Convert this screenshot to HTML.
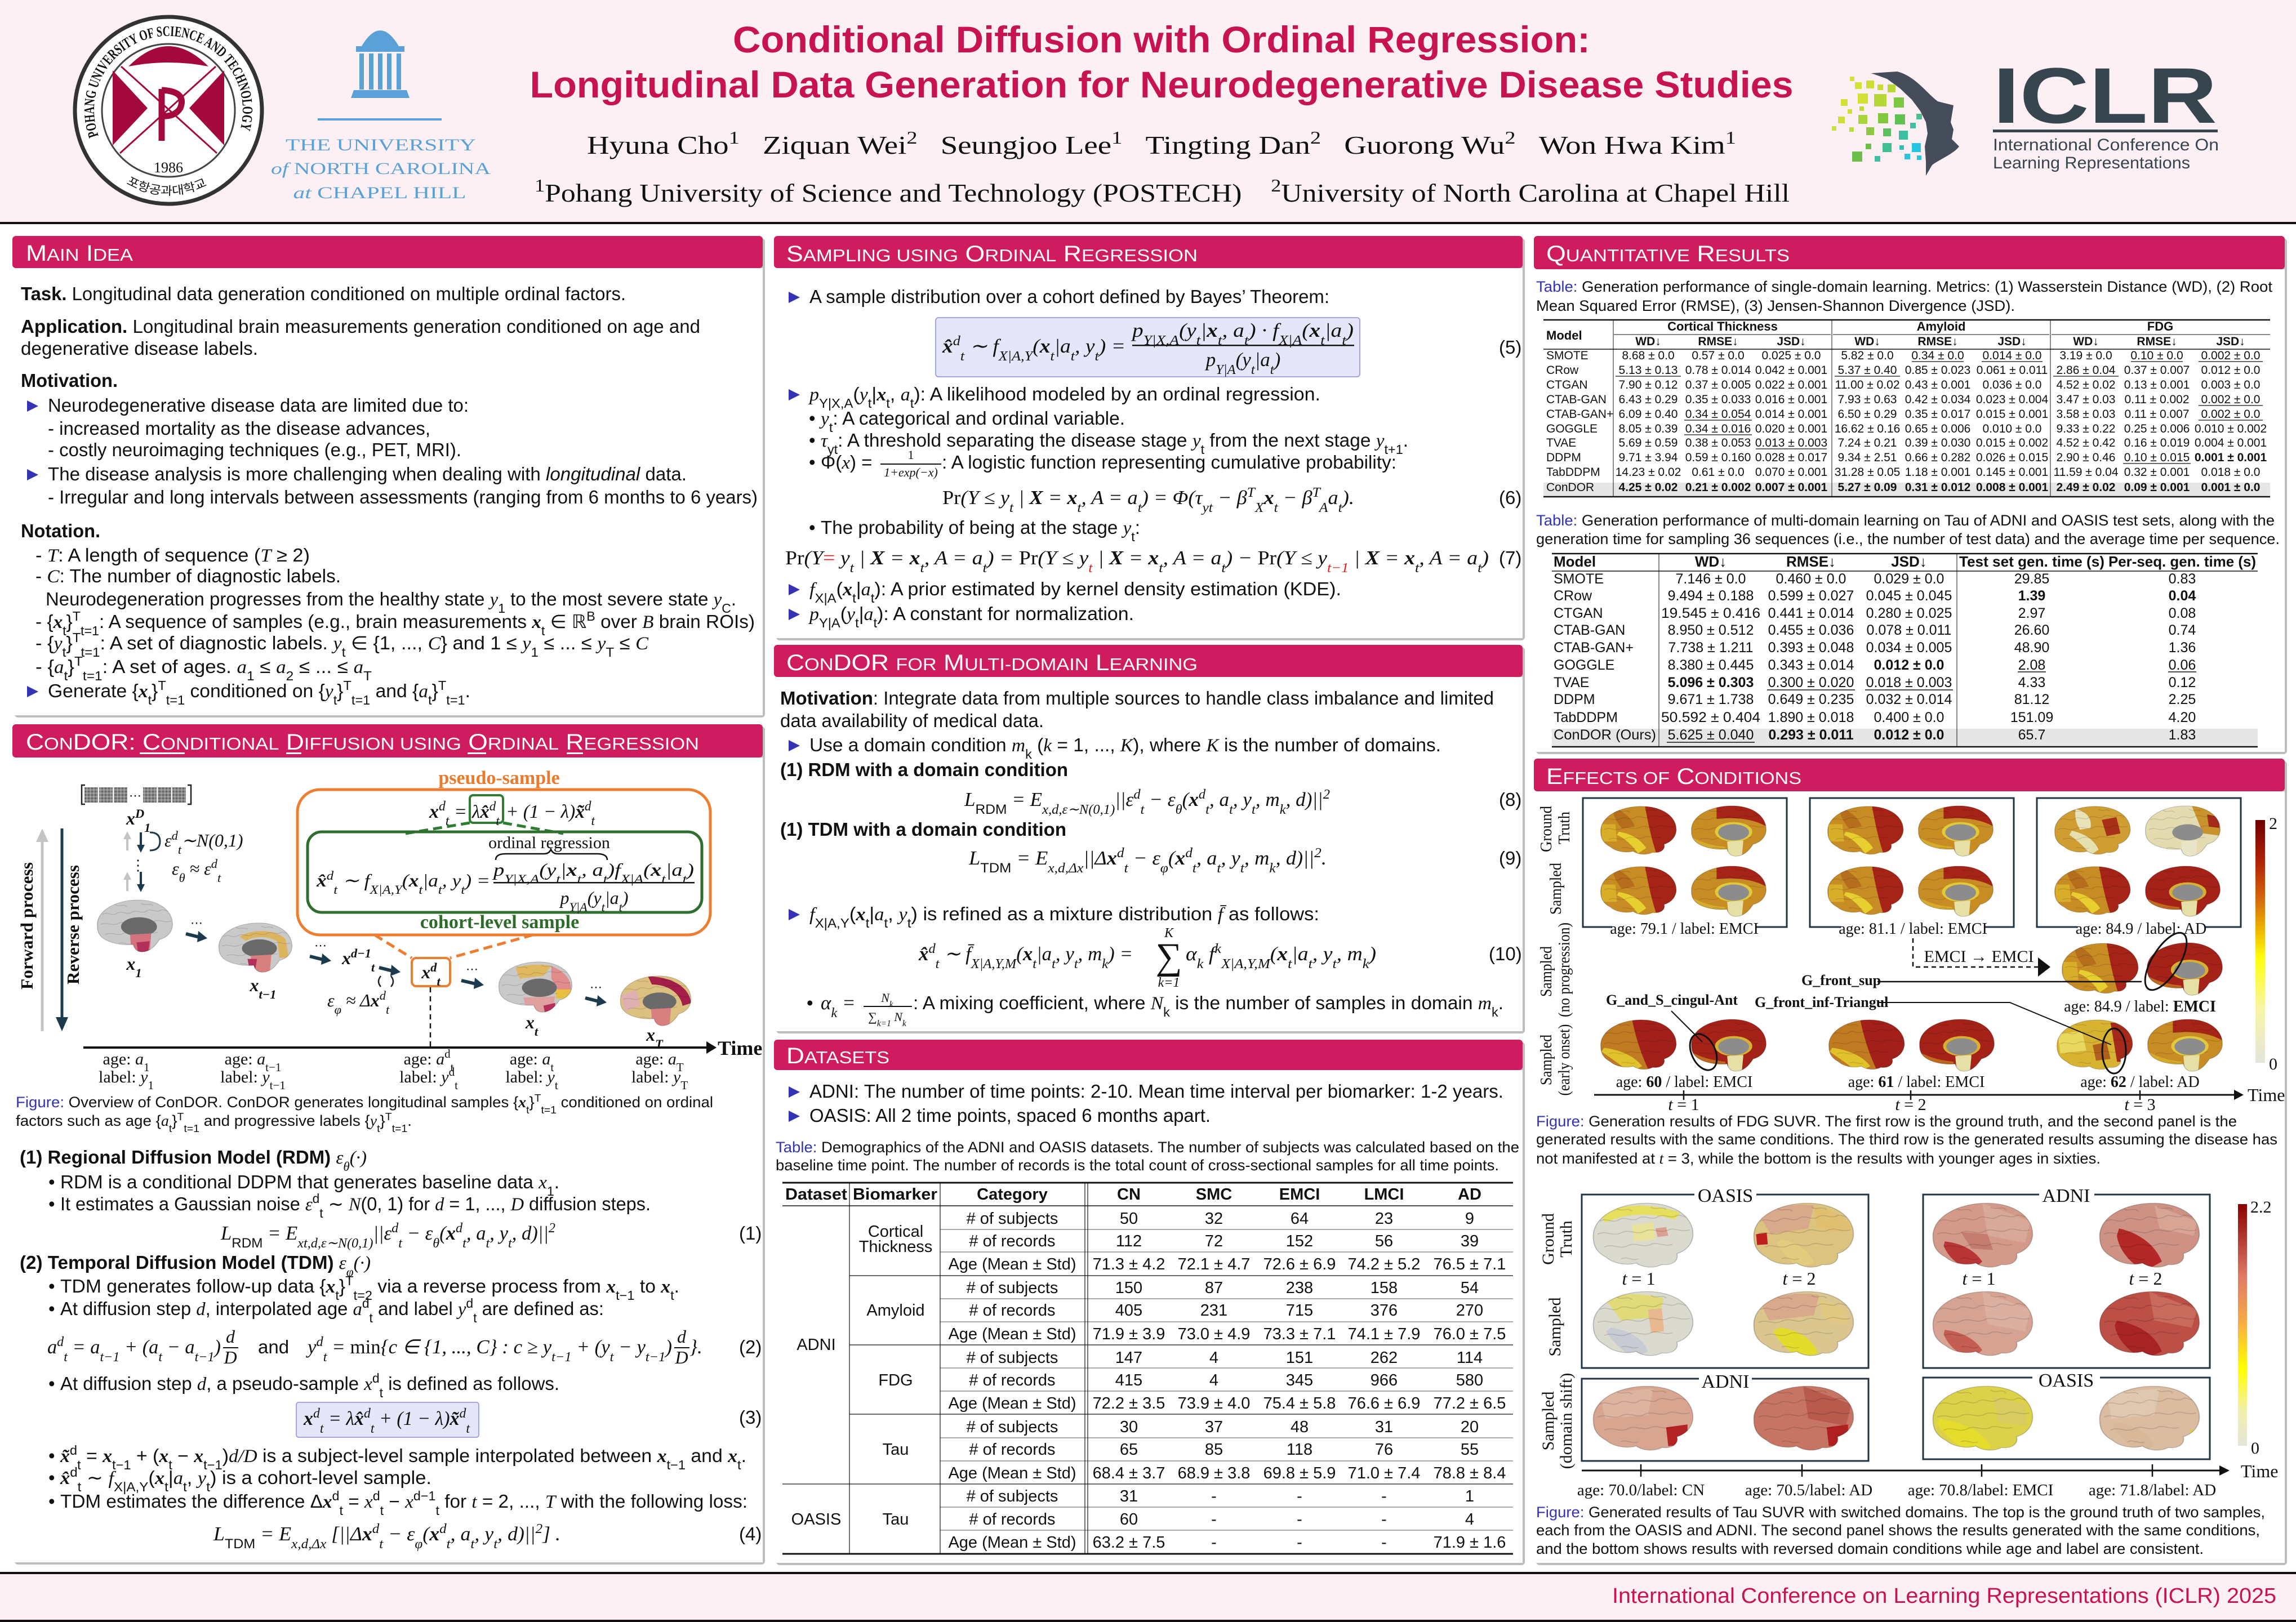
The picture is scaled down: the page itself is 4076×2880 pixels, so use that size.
<!DOCTYPE html>
<html><head><meta charset="utf-8">
<style>
html,body{margin:0;padding:0;background:#fff;width:4076px;height:2880px;overflow:hidden}
svg{display:block}
text{font-family:"Liberation Sans",Arial,sans-serif;fill:#111}
.sf{font-family:"Liberation Serif",serif}
.i{font-family:"Liberation Serif",serif;font-style:italic}
.bi{font-family:"Liberation Serif",serif;font-style:italic;font-weight:bold}
.bs{font-family:"Liberation Serif",serif;font-weight:bold}
.b{font-weight:bold}
.u{font-size:70%;baseline-shift:super}
.d{font-size:70%;baseline-shift:sub}
.bl{fill:#3333b3}
.t33{font-size:33px}
.cap{font-size:27px}
.bar{font-size:40px;fill:#fff}
.sc{font-size:31px;fill:#fff}
.rd{fill:#e02020}
.eq{font-family:"Liberation Serif",serif;font-style:italic;font-size:35px}
.t1{font-size:21px}
.t2{font-size:25px}
.t3{font-size:29px}
</style></head><body>
<svg xmlns="http://www.w3.org/2000/svg" width="4076" height="2880" viewBox="0 0 4076 2880">
<defs>
<linearGradient id="cbF" x1="0" y1="0" x2="0" y2="1">
<stop offset="0" stop-color="#6e0000"/><stop offset=".18" stop-color="#b3240a"/><stop offset=".33" stop-color="#d66a0a"/><stop offset=".47" stop-color="#f0c000"/><stop offset=".57" stop-color="#ffff10"/><stop offset=".78" stop-color="#f7f5a8"/><stop offset="1" stop-color="#e4e4dc"/>
</linearGradient>
<linearGradient id="cbT" x1="0" y1="0" x2="0" y2="1">
<stop offset="0" stop-color="#8b0000"/><stop offset=".3" stop-color="#e07a64"/><stop offset=".48" stop-color="#f8a848"/><stop offset=".68" stop-color="#ffff00"/><stop offset=".85" stop-color="#f2f0a8"/><stop offset="1" stop-color="#e4e4dc"/>
</linearGradient>
<pattern id="noise" width="6" height="6" patternUnits="userSpaceOnUse"><rect width="6" height="6" fill="#8a8a8a"/><rect width="3" height="3" fill="#666"/><rect x="3" y="3" width="3" height="3" fill="#a4a4a4"/></pattern>
<path id="ringP" d="M175,241.1 A132,132 0 1 1 423,241.1" fill="none"/>
<path id="ringK" d="M224,325.9 A150,150 0 0 0 374,325.9" fill="none"/>
<clipPath id="cl"><path d="M4,52 C3,24 28,4 56,5 C82,6 98,26 97,50 C96,64 89,72 82,75 C84,84 78,92 68,90 C60,96 50,94 44,88 C34,92 22,88 16,80 C7,73 4,64 4,52 Z"/></clipPath>
<clipPath id="cm"><path d="M4,50 C3,22 28,4 54,4 C80,4 97,24 96,50 C95,64 88,72 80,75 C76,84 70,96 60,97 C52,98 49,90 48,84 C32,86 16,80 9,70 C5,64 4,58 4,50 Z"/></clipPath>
<path id="gy" d="M10,30 C16,24 22,34 28,28 C34,22 40,32 46,26 C52,20 58,30 64,24 C70,18 76,28 82,22 C86,20 90,26 94,24 M8,48 C16,42 22,52 30,46 C38,40 44,50 52,44 C60,38 66,48 74,42 C80,38 86,46 94,42 M14,66 C22,60 28,70 36,64 C44,58 50,68 58,62 C64,58 70,66 78,62 M26,12 C30,18 36,10 40,16 M58,10 C62,16 68,8 72,14 M30,82 C36,78 40,86 46,82" fill="none" stroke="#000" stroke-opacity=".13" stroke-width="1.3"/>
<path id="olL" d="M4,52 C3,24 28,4 56,5 C82,6 98,26 97,50 C96,64 89,72 82,75 C84,84 78,92 68,90 C60,96 50,94 44,88 C34,92 22,88 16,80 C7,73 4,64 4,52 Z" fill="none" stroke="#000" stroke-opacity=".22" stroke-width="1"/>
<path id="olM" d="M4,50 C3,22 28,4 54,4 C80,4 97,24 96,50 C95,64 88,72 80,75 C76,84 70,96 60,97 C52,98 49,90 48,84 C32,86 16,80 9,70 C5,64 4,58 4,50 Z" fill="none" stroke="#000" stroke-opacity=".22" stroke-width="1"/>

<!-- FDG brains -->
<g id="fL1"><g clip-path="url(#cl)"><rect width="100" height="100" fill="#c88c24"/><path d="M58,0 L100,0 L100,90 L72,90 C66,62 62,34 58,0Z" fill="#a62318"/><path d="M20,8 C32,14 42,26 46,42 L30,46 C24,34 18,22 20,8Z" fill="#b46e1c"/><path d="M26,52 C40,55 52,64 60,82 L50,92 C42,76 34,64 24,58Z" fill="#e6cf2e"/><path d="M5,38 L22,38 L24,70 L5,70Z" fill="#d7ad2a"/><use href="#gy"/></g><use href="#olL"/></g>
<g id="fL2"><g clip-path="url(#cl)"><rect width="100" height="100" fill="#c07a22"/><path d="M42,0 L100,0 L100,92 L62,92 C52,60 46,30 42,0Z" fill="#a3201a"/><path d="M8,55 C25,58 45,68 55,88 L40,99 C28,85 15,72 5,62Z" fill="#e0c22c"/><use href="#gy"/></g><use href="#olL"/></g>
<g id="fL3"><g clip-path="url(#cl)"><rect width="100" height="100" fill="#cf9d32"/><path d="M30,10 C45,15 50,30 48,45 L35,48 C30,35 28,22 30,10Z" fill="#e8e2b8"/><path d="M25,50 C40,55 52,65 58,85 L48,95 C40,78 30,66 22,58Z" fill="#e6dfb0"/><path d="M62,30 L80,25 L85,55 L68,60Z" fill="#a83018"/><use href="#gy"/></g><use href="#olL"/></g>
<g id="fL4"><g clip-path="url(#cl)"><rect width="100" height="100" fill="#d8b332"/><path d="M70,10 L100,10 L100,80 L78,80Z" fill="#a62a1a"/><path d="M5,30 L35,25 L40,60 L8,65Z" fill="#e8d860"/><path d="M48,50 L65,45 L70,75 L52,78Z" fill="#b0601c"/><use href="#gy"/></g><use href="#olL"/></g>
<g id="fM1"><g clip-path="url(#cm)"><rect width="100" height="100" fill="#c88c24"/><path d="M35,0 L100,0 L100,46 C86,30 62,24 35,28Z" fill="#a62318"/><path d="M0,58 C15,72 30,78 46,80 L46,100 L0,100Z" fill="#d6ab2c"/><use href="#gy"/><ellipse cx="56" cy="52" rx="23" ry="18" fill="#e2c93a"/><ellipse cx="56" cy="53" rx="19" ry="15" fill="#8c8c8c"/><path d="M48,70 L68,68 L66,100 L50,100Z" fill="#e6dfa6"/></g><use href="#olM"/></g>
<g id="fM2"><g clip-path="url(#cm)"><rect width="100" height="100" fill="#a52218"/><path d="M0,60 C15,72 30,78 46,80 L46,100 L0,100Z" fill="#c06a20"/><use href="#gy"/><ellipse cx="56" cy="52" rx="23" ry="18" fill="#d8b030"/><ellipse cx="56" cy="53" rx="19" ry="15" fill="#8c8c8c"/><path d="M48,70 L68,68 L66,100 L50,100Z" fill="#e6dfa6"/></g><use href="#olM"/></g>
<g id="fM3"><g clip-path="url(#cm)"><rect width="100" height="100" fill="#e4dcb0"/><path d="M60,0 L100,0 L100,60 L75,55Z" fill="#c8922c"/><path d="M80,20 L95,25 L95,45 L82,42Z" fill="#a62a1a"/><use href="#gy"/><ellipse cx="56" cy="53" rx="19" ry="15" fill="#8c8c8c"/><path d="M48,70 L68,68 L66,100 L50,100Z" fill="#e8e4c8"/></g><use href="#olM"/></g>

<!-- Tau brains -->
<g id="tA"><g clip-path="url(#cl)"><rect width="100" height="100" fill="#dadacf"/><path d="M10,20 C30,5 60,5 85,18 L80,28 C60,18 35,18 15,32Z" fill="#e6df5e"/><path d="M40,35 L60,32 L62,55 L42,58Z" fill="#e8e29a"/><path d="M62,40 L72,38 L74,50 L64,52Z" fill="#dca090"/><use href="#gy"/></g><use href="#olL"/></g>
<g id="tB"><g clip-path="url(#cl)"><rect width="100" height="100" fill="#dcc380"/><path d="M8,20 C25,8 45,5 60,8 L55,40 L20,48Z" fill="#d9a98c"/><path d="M60,10 C75,12 90,25 95,40 L80,45 L62,38Z" fill="#e0c070"/><path d="M6,48 L16,46 L17,62 L7,63Z" fill="#c02020"/><path d="M30,55 C45,60 55,70 60,88 L45,95 C35,80 28,68 25,60Z" fill="#e3cc80"/><use href="#gy"/></g><use href="#olL"/></g>
<g id="tC"><g clip-path="url(#cl)"><rect width="100" height="100" fill="#d39a8a"/><path d="M50,5 L95,30 L90,60 L55,50Z" fill="#d8a898"/><path d="M30,45 L55,48 L60,70 L40,68Z" fill="#c47c6e"/><path d="M15,58 C28,60 42,68 50,86 L40,99 C28,92 18,80 14,64Z" fill="#b83636"/><use href="#gy"/></g><use href="#olL"/></g>
<g id="tD"><g clip-path="url(#cl)"><rect width="100" height="100" fill="#cd9283"/><path d="M55,8 L95,30 L92,50 L60,40Z" fill="#d8a494"/><path d="M22,40 C38,45 55,60 62,86 L46,99 C32,88 22,70 20,50Z" fill="#b52828"/><use href="#gy"/></g><use href="#olL"/></g>
<g id="tE"><g clip-path="url(#cl)"><rect width="100" height="100" fill="#dadacf"/><path d="M15,15 C35,5 55,8 70,15 L65,40 L30,45Z" fill="#e0da78"/><path d="M20,55 C35,58 50,68 55,88 L42,97 C30,86 20,72 16,60Z" fill="#c8cad4"/><path d="M55,30 L68,28 L70,60 L58,62Z" fill="#e8b890"/><use href="#gy"/></g><use href="#olL"/></g>
<g id="tF"><g clip-path="url(#cl)"><rect width="100" height="100" fill="#dcc690"/><path d="M10,20 C28,8 50,5 65,10 L60,38 L18,45Z" fill="#d9a98c"/><path d="M28,55 C45,58 58,70 64,90 L48,99 C35,86 26,72 22,60Z" fill="#e4dc2a"/><path d="M65,15 L90,28 L92,50 L70,45Z" fill="#e0c880"/><use href="#gy"/></g><use href="#olL"/></g>
<g id="tG"><g clip-path="url(#cl)"><rect width="100" height="100" fill="#d6a292"/><path d="M50,5 L95,30 L90,60 L55,50Z" fill="#dcb0a0"/><path d="M15,58 C28,60 42,68 50,86 L40,99 C28,92 18,80 14,64Z" fill="#c45e52"/><use href="#gy"/></g><use href="#olL"/></g>
<g id="tH"><g clip-path="url(#cl)"><rect width="100" height="100" fill="#bd5046"/><path d="M50,5 L95,30 L90,55 L55,45Z" fill="#c86a5c"/><path d="M20,45 C38,50 55,62 62,88 L46,99 C30,88 20,70 18,52Z" fill="#a82424"/><use href="#gy"/></g><use href="#olL"/></g>
<g id="tI"><g clip-path="url(#cl)"><rect width="100" height="100" fill="#d8a690"/><path d="M10,15 L60,8 L55,45 L15,50Z" fill="#dcb4a0"/><path d="M72,62 L92,58 L92,86 L74,88Z" fill="#b42424"/><use href="#gy"/></g><use href="#olL"/></g>
<g id="tJ"><g clip-path="url(#cl)"><rect width="100" height="100" fill="#c67464"/><path d="M50,5 L95,30 L90,60 L55,50Z" fill="#b85a4c"/><path d="M72,62 L92,58 L92,86 L74,88Z" fill="#b02020"/><use href="#gy"/></g><use href="#olL"/></g>
<g id="tK"><g clip-path="url(#cl)"><rect width="100" height="100" fill="#dcd24a"/><path d="M60,20 L90,30 L92,60 L65,55Z" fill="#d8cc60"/><path d="M10,50 C30,55 50,65 58,90 L40,99 C25,85 12,70 8,56Z" fill="#e6dc2c"/><use href="#gy"/></g><use href="#olL"/></g>
<g id="tL"><g clip-path="url(#cl)"><rect width="100" height="100" fill="#dcbca0"/><path d="M10,15 L60,8 L55,45 L15,50Z" fill="#e0c8b0"/><path d="M20,55 C35,58 50,68 55,88 L42,97 C30,86 20,72 16,60Z" fill="#d8b898"/><path d="M88,66 L96,64 L96,78 L90,78Z" fill="#d8d040"/><use href="#gy"/></g><use href="#olL"/></g>

<!-- col1 brains -->
<g id="cA"><g clip-path="url(#cm)"><rect width="100" height="100" fill="#c9c9c9"/><use href="#gy"/><ellipse cx="55" cy="52" rx="22" ry="17" fill="#6a6a6a"/><path d="M44,66 L70,64 L68,100 L46,100Z" fill="#d4727e"/><path d="M52,80 L68,78 L66,100 L54,100Z" fill="#b3305a"/></g><use href="#olM"/></g>
<g id="cB"><g clip-path="url(#cm)"><rect width="100" height="100" fill="#c9c9c9"/><path d="M30,30 C45,15 75,15 88,35 L92,70 L80,70 L78,40 C68,28 48,28 38,38Z" fill="#ddb45e"/><use href="#gy"/><ellipse cx="55" cy="52" rx="22" ry="17" fill="#6a6a6a"/><path d="M44,66 L70,64 L68,100 L46,100Z" fill="#d88080"/><path d="M40,72 L52,72 L50,90 L42,88Z" fill="#b3305a"/></g><use href="#olM"/></g>
<g id="cC"><g clip-path="url(#cm)"><rect width="100" height="100" fill="#c9c9c9"/><path d="M25,15 C40,8 60,8 70,12 L60,30 L30,35Z" fill="#e0b860"/><path d="M70,12 C85,20 95,35 95,55 L80,60 L70,35Z" fill="#e08c8c"/><path d="M75,55 L95,55 L92,72 L76,72Z" fill="#e8c040"/><use href="#gy"/><ellipse cx="55" cy="52" rx="22" ry="17" fill="#6a6a6a"/><path d="M35,70 L75,68 L70,100 L40,100Z" fill="#e0a0a0"/><path d="M60,85 L75,80 L74,96 L62,98Z" fill="#b3305a"/></g><use href="#olM"/></g>
<g id="cD"><g clip-path="url(#cm)"><rect width="100" height="100" fill="#dcc080"/><path d="M40,5 C70,5 95,25 96,55 L85,60 C82,35 65,20 45,20Z" fill="#a31f4a"/><path d="M5,40 L25,30 L30,60 L10,70Z" fill="#e0b0b0"/><use href="#gy"/><ellipse cx="55" cy="52" rx="22" ry="17" fill="#6a6a6a"/><path d="M44,66 L70,64 L68,100 L46,100Z" fill="#d88080"/></g><use href="#olM"/></g>
</defs>

<!-- ================= HEADER ================= -->
<rect width="4076" height="395" fill="#fcf0f4"/>
<rect y="394" width="4076" height="4" fill="#111"/>

<!-- POSTECH logo -->
<circle cx="299" cy="196" r="166" fill="#fff" stroke="#333" stroke-width="7"/>
<circle cx="299" cy="196" r="118" fill="#fff" stroke="#444" stroke-width="3"/>
<text class="bs" font-size="26" fill="#333"><textPath href="#ringP" textLength="495" lengthAdjust="spacingAndGlyphs">POHANG UNIVERSITY OF SCIENCE AND TECHNOLOGY</textPath></text>
<text font-size="21" fill="#333" style="font-family:'Noto Sans CJK KR',sans-serif"><textPath href="#ringK" textLength="150" lengthAdjust="spacingAndGlyphs">포항공과대학교</textPath></text>
<path d="M228,118 Q299,46 370,118 Q299,104 228,118Z" fill="#a3093c"/>
<polygon points="200,125 262,192 200,258" fill="#a3093c"/>
<polygon points="398,125 336,192 398,258" fill="#a3093c"/>
<path d="M215,118 L385,272 M383,118 L213,272" stroke="#a3093c" stroke-width="3"/>
<path d="M287,158 L287,250 M287,160 Q332,162 320,192 Q310,208 287,206" stroke="#a3093c" stroke-width="11" fill="none"/>
<text class="sf" x="299" y="306" font-size="26" text-anchor="middle" fill="#333">1986</text>

<!-- UNC logo -->
<g fill="#5aa1d8">
<path d="M642,82 Q675,26 708,82Z"/>
<rect x="632" y="82" width="86" height="10"/>
<rect x="638" y="95" width="8" height="64"/><rect x="655" y="95" width="8" height="64"/><rect x="671" y="95" width="8" height="64"/><rect x="687" y="95" width="8" height="64"/><rect x="704" y="95" width="8" height="64"/>
<path d="M628,160 L722,160 L727,174 L623,174Z"/>
</g>
<rect x="564" y="210" width="220" height="4" fill="#5aa1d8"/>
<text class="sf" x="676" y="267" font-size="30" text-anchor="middle" textLength="338" lengthAdjust="spacingAndGlyphs" style="fill:#5aa1d8">THE UNIVERSITY</text>
<text class="sf" x="676" y="309" font-size="30" text-anchor="middle" textLength="390" lengthAdjust="spacingAndGlyphs" style="fill:#5aa1d8"><tspan class="i" style="fill:#5aa1d8">of</tspan> NORTH CAROLINA</text>
<text class="sf" x="674" y="352" font-size="30" text-anchor="middle" textLength="307" lengthAdjust="spacingAndGlyphs" style="fill:#5aa1d8"><tspan class="i" style="fill:#5aa1d8">at</tspan> CHAPEL HILL</text>

<!-- Title -->
<text x="2062" y="93" font-size="66" class="b" text-anchor="middle" textLength="1522" lengthAdjust="spacingAndGlyphs" style="fill:#c7144f">Conditional Diffusion with Ordinal Regression:</text>
<text x="2062" y="173" font-size="66" class="b" text-anchor="middle" textLength="2243" lengthAdjust="spacingAndGlyphs" style="fill:#c7144f">Longitudinal Data Generation for Neurodegenerative Disease Studies</text>
<text class="sf" x="2062" y="273" font-size="46" text-anchor="middle" textLength="2040" lengthAdjust="spacingAndGlyphs">Hyuna Cho<tspan class="u">1</tspan>&#160;&#160;&#160;Ziquan Wei<tspan class="u">2</tspan>&#160;&#160;&#160;Seungjoo Lee<tspan class="u">1</tspan>&#160;&#160;&#160;Tingting Dan<tspan class="u">2</tspan>&#160;&#160;&#160;Guorong Wu<tspan class="u">2</tspan>&#160;&#160;&#160;Won Hwa Kim<tspan class="u">1</tspan></text>
<text class="sf" x="2063" y="358" font-size="46" text-anchor="middle" textLength="2228" lengthAdjust="spacingAndGlyphs"><tspan class="u">1</tspan>Pohang University of Science and Technology (POSTECH)&#160;&#160;&#160;&#160;<tspan class="u">2</tspan>University of North Carolina at Chapel Hill</text>

<!-- ICLR logo -->
<path d="M3322,130 L3368,127 C3400,135 3420,165 3440,180 L3468,187 L3463,217 L3468,230 L3465,247 L3478,260 C3470,272 3440,285 3430,293 L3419,312 L3419,287 L3417,260 L3422,237 L3419,217 L3409,197 L3394,177 L3373,157 L3350,140 Z" fill="#454d5a"/>
<g>
<rect x="3284" y="136" width="8" height="8" fill="#d8e040"/><rect x="3293" y="146" width="12" height="12" fill="#d4e034"/><rect x="3313" y="143" width="14" height="14" fill="#d0de34"/><rect x="3333" y="150" width="10" height="10" fill="#c8dc34"/><rect x="3351" y="150" width="14" height="14" fill="#b8d838"/>
<rect x="3268" y="176" width="12" height="12" fill="#d4e034"/><rect x="3298" y="166" width="18" height="18" fill="#d6e032"/><rect x="3327" y="167" width="22" height="22" fill="#b4d636"/><rect x="3362" y="173" width="18" height="18" fill="#7cc840"/>
<rect x="3280" y="194" width="8" height="8" fill="#cce038"/><rect x="3301" y="189" width="8" height="8" fill="#c0dc38"/>
<rect x="3263" y="207" width="12" height="12" fill="#cbe03a"/><rect x="3299" y="204" width="16" height="16" fill="#a8d43c"/><rect x="3334" y="201" width="18" height="18" fill="#80c83c"/><rect x="3364" y="203" width="18" height="18" fill="#60c050"/><rect x="3402" y="202" width="10" height="10" fill="#4cc090"/>
<rect x="3252" y="224" width="8" height="8" fill="#c8e040"/><rect x="3283" y="226" width="8" height="8" fill="#b8dc3c"/><rect x="3313" y="226" width="14" height="14" fill="#8cc840"/><rect x="3343" y="228" width="14" height="14" fill="#5cc05c"/><rect x="3371" y="232" width="16" height="16" fill="#3cc0a0"/><rect x="3391" y="218" width="10" height="10" fill="#40c0a0"/>
<rect x="3312" y="255" width="10" height="10" fill="#6cc048"/><rect x="3342" y="254" width="16" height="16" fill="#40c090"/><rect x="3372" y="258" width="8" height="8" fill="#30c0b0"/><rect x="3394" y="254" width="16" height="16" fill="#28c4e4"/>
<rect x="3288" y="269" width="18" height="18" fill="#6cc04a"/><rect x="3328" y="277" width="10" height="10" fill="#40c0a0"/><rect x="3381" y="273" width="10" height="10" fill="#28c4e4"/><rect x="3403" y="276" width="8" height="8" fill="#28c4e4"/>
</g>
<text x="3538" y="218" font-size="140" class="b" textLength="398" lengthAdjust="spacingAndGlyphs" style="fill:#37454f">ICLR</text>
<rect x="3538" y="230" width="399" height="5" fill="#37454f"/>
<text x="3538" y="267" font-size="30" textLength="401" lengthAdjust="spacingAndGlyphs" style="fill:#37454f">International Conference On</text>
<text x="3538" y="299" font-size="30" textLength="350" lengthAdjust="spacingAndGlyphs" style="fill:#37454f">Learning Representations</text>

<!-- ================= SECTION FRAMES ================= -->
<g>
<rect x="26" y="423" width="1332" height="851" rx="6" fill="#bdbdbd"/><rect x="22" y="476" width="1332" height="794" fill="#fff"/><rect x="22" y="419" width="1332" height="57" rx="6" fill="#cf1c5f"/>
<rect x="26" y="1290" width="1332" height="1488" rx="6" fill="#bdbdbd"/><rect x="22" y="1345" width="1332" height="1429" fill="#fff"/><rect x="22" y="1286" width="1332" height="59" rx="6" fill="#cf1c5f"/>
<rect x="1378" y="423" width="1329" height="714" rx="6" fill="#bdbdbd"/><rect x="1374" y="476" width="1329" height="657" fill="#fff"/><rect x="1374" y="419" width="1329" height="57" rx="6" fill="#cf1c5f"/>
<rect x="1378" y="1149" width="1329" height="686" rx="6" fill="#bdbdbd"/><rect x="1374" y="1202" width="1329" height="629" fill="#fff"/><rect x="1374" y="1145" width="1329" height="57" rx="6" fill="#cf1c5f"/>
<rect x="1378" y="1850" width="1329" height="929" rx="6" fill="#bdbdbd"/><rect x="1374" y="1900" width="1329" height="875" fill="#fff"/><rect x="1374" y="1846" width="1329" height="54" rx="6" fill="#cf1c5f"/>
<rect x="2727" y="423" width="1333" height="916" rx="6" fill="#bdbdbd"/><rect x="2723" y="478" width="1333" height="857" fill="#fff"/><rect x="2723" y="419" width="1333" height="59" rx="6" fill="#cf1c5f"/>
<rect x="2727" y="1351" width="1333" height="1428" rx="6" fill="#bdbdbd"/><rect x="2723" y="1405" width="1333" height="1370" fill="#fff"/><rect x="2723" y="1347" width="1333" height="58" rx="6" fill="#cf1c5f"/>
</g>

<!-- bar titles -->
<text class="bar" x="46" y="463" textLength="190" lengthAdjust="spacingAndGlyphs">M<tspan class="sc">AIN</tspan> I<tspan class="sc">DEA</tspan></text>
<text class="bar" x="46" y="1331" textLength="1195" lengthAdjust="spacingAndGlyphs">C<tspan class="sc">ON</tspan>DOR: C<tspan class="sc">ONDITIONAL</tspan> D<tspan class="sc">IFFUSION USING</tspan> O<tspan class="sc">RDINAL</tspan> R<tspan class="sc">EGRESSION</tspan></text>
<g fill="#fff"><rect x="248" y="1336" width="80" height="3"/><rect x="508" y="1336" width="27" height="3"/><rect x="830" y="1336" width="33" height="3"/><rect x="1006" y="1336" width="29" height="3"/></g>
<text class="bar" x="1396" y="464" textLength="730" lengthAdjust="spacingAndGlyphs">S<tspan class="sc">AMPLING USING</tspan> O<tspan class="sc">RDINAL</tspan> R<tspan class="sc">EGRESSION</tspan></text>
<text class="bar" x="1396" y="1190" textLength="730" lengthAdjust="spacingAndGlyphs">C<tspan class="sc">ON</tspan>DOR <tspan class="sc">FOR</tspan> M<tspan class="sc">ULTI-DOMAIN</tspan> L<tspan class="sc">EARNING</tspan></text>
<text class="bar" x="1396" y="1888" textLength="183" lengthAdjust="spacingAndGlyphs">D<tspan class="sc">ATASETS</tspan></text>
<text class="bar" x="2745" y="464" textLength="432" lengthAdjust="spacingAndGlyphs">Q<tspan class="sc">UANTITATIVE</tspan> R<tspan class="sc">ESULTS</tspan></text>
<text class="bar" x="2745" y="1392" textLength="453" lengthAdjust="spacingAndGlyphs">E<tspan class="sc">FFECTS OF</tspan> C<tspan class="sc">ONDITIONS</tspan></text>

<!-- ================= COLUMN 1: MAIN IDEA ================= -->
<g fill="#3333b3">
<path d="M48,711 L68,721 L48,731Z"/><path d="M48,833 L68,843 L48,853Z"/><path d="M48,1218 L68,1228 L48,1238Z"/>
</g>
<text x="37" y="533" class="t33" textLength="1074" lengthAdjust="spacingAndGlyphs"><tspan class="b">Task.</tspan> Longitudinal data generation conditioned on multiple ordinal factors.</text>
<text x="37" y="591" class="t33" textLength="1206" lengthAdjust="spacingAndGlyphs"><tspan class="b">Application.</tspan> Longitudinal brain measurements generation conditioned on age and</text>
<text x="37" y="630" class="t33" textLength="421" lengthAdjust="spacingAndGlyphs">degenerative disease labels.</text>
<text x="37" y="687" class="t33 b" textLength="172" lengthAdjust="spacingAndGlyphs">Motivation.</text>
<text x="85" y="731" class="t33" textLength="747" lengthAdjust="spacingAndGlyphs">Neurodegenerative disease data are limited due to:</text>
<text x="85" y="772" class="t33" textLength="679" lengthAdjust="spacingAndGlyphs">- increased mortality as the disease advances,</text>
<text x="85" y="810" class="t33" textLength="734" lengthAdjust="spacingAndGlyphs">- costly neuroimaging techniques (e.g., PET, MRI).</text>
<text x="85" y="853" class="t33" textLength="1134" lengthAdjust="spacingAndGlyphs">The disease analysis is more challenging when dealing with <tspan font-style="italic">longitudinal</tspan> data.</text>
<text x="85" y="894" class="t33" textLength="1260" lengthAdjust="spacingAndGlyphs">- Irregular and long intervals between assessments (ranging from 6 months to 6 years)</text>
<text x="37" y="954" class="t33 b" textLength="141" lengthAdjust="spacingAndGlyphs">Notation.</text>
<text x="63" y="997" class="t33" textLength="487" lengthAdjust="spacingAndGlyphs">- <tspan class="i">T</tspan>: A length of sequence (<tspan class="i">T</tspan> ≥ 2)</text>
<text x="63" y="1034" class="t33" textLength="542" lengthAdjust="spacingAndGlyphs">- <tspan class="i">C</tspan>: The number of diagnostic labels.</text>
<text x="81" y="1075" class="t33" textLength="1226" lengthAdjust="spacingAndGlyphs">Neurodegeneration progresses from the healthy state <tspan class="i">y</tspan><tspan class="d">1</tspan> to the most severe state <tspan class="i">y</tspan><tspan class="d">C</tspan>.</text>
<text x="63" y="1115" class="t33" textLength="1277" lengthAdjust="spacingAndGlyphs">- {<tspan class="bi">x</tspan><tspan class="d">t</tspan>}<tspan class="u">T</tspan><tspan class="d">t=1</tspan>: A sequence of samples (e.g., brain measurements <tspan class="bi">x</tspan><tspan class="d">t</tspan> ∈ ℝ<tspan class="u">B</tspan> over <tspan class="i">B</tspan> brain ROIs)</text>
<text x="63" y="1153" class="t33" textLength="1088" lengthAdjust="spacingAndGlyphs">- {<tspan class="i">y</tspan><tspan class="d">t</tspan>}<tspan class="u">T</tspan><tspan class="d">t=1</tspan>: A set of diagnostic labels. <tspan class="i">y</tspan><tspan class="d">t</tspan> ∈ {1, ..., <tspan class="i">C</tspan>} and 1 ≤ <tspan class="i">y</tspan><tspan class="d">1</tspan> ≤ ... ≤ <tspan class="i">y</tspan><tspan class="d">T</tspan> ≤ <tspan class="i">C</tspan></text>
<text x="63" y="1195" class="t33" textLength="597" lengthAdjust="spacingAndGlyphs">- {<tspan class="i">a</tspan><tspan class="d">t</tspan>}<tspan class="u">T</tspan><tspan class="d">t=1</tspan>: A set of ages. <tspan class="i">a</tspan><tspan class="d">1</tspan> ≤ <tspan class="i">a</tspan><tspan class="d">2</tspan> ≤ ... ≤ <tspan class="i">a</tspan><tspan class="d">T</tspan></text>
<text x="85" y="1238" class="t33" textLength="750" lengthAdjust="spacingAndGlyphs">Generate {<tspan class="bi">x</tspan><tspan class="d">t</tspan>}<tspan class="u">T</tspan><tspan class="d">t=1</tspan> conditioned on {<tspan class="i">y</tspan><tspan class="d">t</tspan>}<tspan class="u">T</tspan><tspan class="d">t=1</tspan> and {<tspan class="i">a</tspan><tspan class="d">t</tspan>}<tspan class="u">T</tspan><tspan class="d">t=1</tspan>.</text>

<!-- ================= COLUMN 1: CONDOR FIGURE ================= -->
<text class="bs" x="886" y="1392" font-size="34" text-anchor="middle" style="fill:#ea7a2c">pseudo-sample</text>
<rect x="528" y="1402" width="733" height="258" rx="40" fill="none" stroke="#ef7d2f" stroke-width="5"/>
<text class="i" x="762" y="1452" font-size="34"><tspan class="bi">x</tspan><tspan class="u">d</tspan><tspan class="d">t</tspan> =</text>
<rect x="834" y="1412" width="59" height="49" rx="6" fill="none" stroke="#2e7d32" stroke-width="4"/>
<text class="i" x="838" y="1452" font-size="33">λ<tspan class="bi">x̂</tspan><tspan class="u">d</tspan><tspan class="d">t</tspan></text>
<text class="i" x="898" y="1452" font-size="34" textLength="158" lengthAdjust="spacingAndGlyphs">+ (1 − λ)<tspan class="bi">x̃</tspan><tspan class="u">d</tspan><tspan class="d">t</tspan></text>
<path d="M834,1461 L720,1480 M893,1461 L1000,1480" stroke="#2e7d32" stroke-width="5" stroke-dasharray="16,9" fill="none"/>
<rect x="546" y="1477" width="700" height="143" rx="25" fill="none" stroke="#2e6e2e" stroke-width="5"/>
<text class="sf" x="975" y="1506" font-size="30" text-anchor="middle">ordinal regression</text>
<path d="M880,1527 Q880,1516 898,1516 L966,1516 Q975,1516 978,1508 Q981,1516 990,1516 L1060,1516 Q1078,1516 1078,1527" stroke="#111" stroke-width="2.5" fill="none"/>
<text class="i" x="562" y="1574" font-size="32" textLength="308" lengthAdjust="spacingAndGlyphs"><tspan class="bi">x̂</tspan><tspan class="u">d</tspan><tspan class="d">t</tspan> ∼ f<tspan class="d">X|A,Y</tspan>(<tspan class="bi">x</tspan><tspan class="d">t</tspan>|a<tspan class="d">t</tspan>, y<tspan class="d">t</tspan>) =</text>
<text class="i" x="876" y="1555" font-size="32" textLength="356" lengthAdjust="spacingAndGlyphs">p<tspan class="d">Y|X,A</tspan>(y<tspan class="d">t</tspan>|<tspan class="bi">x</tspan><tspan class="d">t</tspan>, a<tspan class="d">t</tspan>)f<tspan class="d">X|A</tspan>(<tspan class="bi">x</tspan><tspan class="d">t</tspan>|a<tspan class="d">t</tspan>)</text>
<rect x="876" y="1566" width="357" height="2.5" fill="#111"/>
<text class="i" x="1055" y="1605" font-size="32" text-anchor="middle">p<tspan class="d">Y|A</tspan>(y<tspan class="d">t</tspan>|a<tspan class="d">t</tspan>)</text>
<text class="bs" x="887" y="1648" font-size="34" text-anchor="middle" style="fill:#2e6b2a">cohort-level sample</text>
<path d="M665,1660 L731,1701 M946,1660 L799,1701" stroke="#ef7d2f" stroke-width="5" stroke-dasharray="16,9" fill="none"/>
<rect x="731" y="1701" width="68" height="50" rx="8" fill="#fff" stroke="#ef7d2f" stroke-width="4"/>
<text class="bi" x="765" y="1737" font-size="32" text-anchor="middle">x<tspan class="u">d</tspan><tspan class="d">t</tspan></text>
<path d="M764,1753 L764,1858" stroke="#111" stroke-width="2.5" stroke-dasharray="9,7"/>

<!-- process arrows -->
<path d="M75,1831 L75,1492" stroke="#c4c4c4" stroke-width="5"/>
<polygon points="64,1495 75,1471 86,1495" fill="#c4c4c4"/>
<path d="M110,1471 L110,1810" stroke="#1b3a4b" stroke-width="5"/>
<polygon points="99,1806 110,1831 121,1806" fill="#1b3a4b"/>
<text class="bs" transform="translate(58,1644) rotate(-90)" font-size="31" text-anchor="middle" textLength="226" lengthAdjust="spacingAndGlyphs">Forward process</text>
<text class="bs" transform="translate(140,1642) rotate(-90)" font-size="31" text-anchor="middle" textLength="212" lengthAdjust="spacingAndGlyphs">Reverse process</text>

<!-- noise bar -->
<path d="M151,1394 L145,1394 L145,1428 L151,1428 M333,1394 L339,1394 L339,1428 L333,1428" stroke="#222" stroke-width="2.5" fill="none"/>
<g fill="url(#noise)"><rect x="150" y="1398" width="24" height="27"/><rect x="176" y="1398" width="24" height="27"/><rect x="202" y="1398" width="24" height="27"/><rect x="254" y="1398" width="24" height="27"/><rect x="280" y="1398" width="24" height="27"/><rect x="306" y="1398" width="24" height="27"/></g>
<text x="229" y="1420" font-size="22">⋯</text>
<text class="bi" x="224" y="1464" font-size="32">x<tspan class="u">D</tspan><tspan class="d">1</tspan></text>
<path d="M226,1510 L226,1488 M226,1582 L226,1560" stroke="#c4c4c4" stroke-width="4"/>
<polygon points="219,1490 226,1476 233,1490" fill="#c4c4c4"/><polygon points="219,1562 226,1548 233,1562" fill="#c4c4c4"/>
<path d="M250,1478 L250,1502 M250,1548 L250,1572" stroke="#1b3a4b" stroke-width="4"/>
<polygon points="243,1500 250,1514 257,1500" fill="#1b3a4b"/><polygon points="243,1570 250,1584 257,1570" fill="#1b3a4b"/>
<text x="232" y="1545" font-size="26">⋮</text>
<path d="M266,1478 Q284,1478 284,1494 Q284,1510 266,1510" stroke="#1b3a4b" stroke-width="3" fill="none"/>
<text class="i" x="292" y="1503" font-size="32">ε<tspan class="u">d</tspan><tspan class="d">t</tspan>∼N(0,1)</text>
<text class="i" x="305" y="1553" font-size="32">ε<tspan class="d">θ</tspan> ≈ ε<tspan class="u">d</tspan><tspan class="d">t</tspan></text>

<!-- brains col1 -->
<use href="#cA" transform="translate(167,1594) scale(1.45,0.99)"/>
<use href="#cB" transform="translate(383,1635) scale(1.41,0.94)"/>
<use href="#cC" transform="translate(880,1704) scale(1.41,0.96)"/>
<use href="#cD" transform="translate(1096,1729) scale(1.36,0.95)"/>
<g fill="#1b3a4b" stroke="#1b3a4b">
<path d="M330,1658 L354,1664" stroke-width="6"/><polygon points="352,1653 368,1666 350,1673" stroke="none"/>
<path d="M550,1698 L574,1704" stroke-width="6"/><polygon points="572,1693 588,1706 570,1713" stroke="none"/>
<path d="M673,1718 L697,1724" stroke-width="6"/><polygon points="695,1713 711,1726 693,1733" stroke="none"/>
<path d="M819,1741 L845,1747" stroke-width="6"/><polygon points="843,1736 859,1749 841,1756" stroke="none"/>
<path d="M1039,1772 L1063,1778" stroke-width="6"/><polygon points="1061,1767 1077,1780 1059,1787" stroke="none"/>
</g>
<text x="338" y="1646" font-size="22">⋯</text><text x="558" y="1686" font-size="22">⋯</text><text x="827" y="1728" font-size="22">⋯</text><text x="1047" y="1760" font-size="22">⋯</text>
<text class="bi" x="607" y="1712" font-size="32">x<tspan class="u">d−1</tspan><tspan class="d">t</tspan></text>
<path d="M676,1733 Q668,1743 676,1752 M694,1733 Q702,1743 694,1752" stroke="#222" stroke-width="2.5" fill="none"/>
<text class="i" x="581" y="1787" font-size="32">ε<tspan class="d">φ</tspan> ≈ Δ<tspan class="bi">x</tspan><tspan class="u">d</tspan><tspan class="d">t</tspan></text>
<text class="bi" x="238" y="1722" font-size="32" text-anchor="middle">x<tspan class="d">1</tspan></text>
<text class="bi" x="467" y="1760" font-size="32" text-anchor="middle">x<tspan class="d">t−1</tspan></text>
<text class="bi" x="944" y="1826" font-size="32" text-anchor="middle">x<tspan class="d">t</tspan></text>
<text class="bi" x="1162" y="1848" font-size="32" text-anchor="middle">x<tspan class="d">T</tspan></text>
<path d="M148,1860 L1256,1860" stroke="#111" stroke-width="4"/>
<polygon points="1254,1849 1272,1860 1254,1871" fill="#111"/>
<text class="bs" x="1274" y="1873" font-size="36">Time</text>
<text class="sf" x="224" y="1890" text-anchor="middle" font-size="30">age: <tspan class="i">a</tspan><tspan class="d">1</tspan></text>
<text class="sf" x="224" y="1922" text-anchor="middle" font-size="30">label: <tspan class="i">y</tspan><tspan class="d">1</tspan></text>
<text class="sf" x="449" y="1890" text-anchor="middle" font-size="30">age: <tspan class="i">a</tspan><tspan class="d">t−1</tspan></text>
<text class="sf" x="449" y="1922" text-anchor="middle" font-size="30">label: <tspan class="i">y</tspan><tspan class="d">t−1</tspan></text>
<text class="sf" x="761" y="1890" text-anchor="middle" font-size="30">age: <tspan class="i">a</tspan><tspan class="u">d</tspan><tspan class="d">t</tspan></text>
<text class="sf" x="761" y="1922" text-anchor="middle" font-size="30">label: <tspan class="i">y</tspan><tspan class="u">d</tspan><tspan class="d">t</tspan></text>
<text class="sf" x="944" y="1890" text-anchor="middle" font-size="30">age: <tspan class="i">a</tspan><tspan class="d">t</tspan></text>
<text class="sf" x="944" y="1922" text-anchor="middle" font-size="30">label: <tspan class="i">y</tspan><tspan class="d">t</tspan></text>
<text class="sf" x="1171" y="1890" text-anchor="middle" font-size="30">age: <tspan class="i">a</tspan><tspan class="d">T</tspan></text>
<text class="sf" x="1171" y="1922" text-anchor="middle" font-size="30">label: <tspan class="i">y</tspan><tspan class="d">T</tspan></text>

<text x="28" y="1966" class="cap" textLength="1238" lengthAdjust="spacingAndGlyphs"><tspan class="bl">Figure:</tspan> Overview of ConDOR. ConDOR generates longitudinal samples {<tspan class="bi">x</tspan><tspan class="d">t</tspan>}<tspan class="u">T</tspan><tspan class="d">t=1</tspan> conditioned on ordinal</text>
<text x="28" y="1999" class="cap" textLength="703" lengthAdjust="spacingAndGlyphs">factors such as age {<tspan class="i">a</tspan><tspan class="d">t</tspan>}<tspan class="u">T</tspan><tspan class="d">t=1</tspan> and progressive labels {<tspan class="i">y</tspan><tspan class="d">t</tspan>}<tspan class="u">T</tspan><tspan class="d">t=1</tspan>.</text>

<!-- RDM / TDM -->
<text x="35" y="2066" class="t33 b" textLength="616" lengthAdjust="spacingAndGlyphs">(1) Regional Diffusion Model (RDM) <tspan class="i" font-weight="normal">ε<tspan class="d">θ</tspan>(·)</tspan></text>
<text x="86" y="2110" class="t33">•</text><text x="86" y="2149" class="t33">•</text><text x="86" y="2295" class="t33">•</text><text x="86" y="2335" class="t33">•</text><text x="86" y="2468" class="t33">•</text><text x="86" y="2596" class="t33">•</text><text x="86" y="2635" class="t33">•</text><text x="86" y="2677" class="t33">•</text>
<text x="107" y="2110" class="t33" textLength="886" lengthAdjust="spacingAndGlyphs">RDM is a conditional DDPM that generates baseline data <tspan class="i">x</tspan><tspan class="d">1</tspan>.</text>
<text x="107" y="2149" class="t33" textLength="1048" lengthAdjust="spacingAndGlyphs">It estimates a Gaussian noise <tspan class="i">ε</tspan><tspan class="u">d</tspan><tspan class="d">t</tspan> ∼ <tspan class="i">N</tspan>(0, 1) for <tspan class="i">d</tspan> = 1, ..., <tspan class="i">D</tspan> diffusion steps.</text>
<text x="392" y="2201" class="eq" textLength="594" lengthAdjust="spacingAndGlyphs">L<tspan class="d" style="font-family:'Liberation Sans';font-style:normal">RDM</tspan> = E<tspan class="d">xt,d,ε∼N(0,1)</tspan>||ε<tspan class="u">d</tspan><tspan class="d">t</tspan> − ε<tspan class="d">θ</tspan>(<tspan class="bi">x</tspan><tspan class="u">d</tspan><tspan class="d">t</tspan>, a<tspan class="d">t</tspan>, y<tspan class="d">t</tspan>, d)||<tspan class="u">2</tspan></text>
<text x="1312" y="2201" class="t33">(1)</text>
<text x="35" y="2253" class="t33 b" textLength="623" lengthAdjust="spacingAndGlyphs">(2) Temporal Diffusion Model (TDM) <tspan class="i" font-weight="normal">ε<tspan class="d">φ</tspan>(·)</tspan></text>
<text x="107" y="2295" class="t33" textLength="1099" lengthAdjust="spacingAndGlyphs">TDM generates follow-up data {<tspan class="bi">x</tspan><tspan class="d">t</tspan>}<tspan class="u">T</tspan><tspan class="d">t=2</tspan> via a reverse process from <tspan class="bi">x</tspan><tspan class="d">t−1</tspan> to <tspan class="bi">x</tspan><tspan class="d">t</tspan>.</text>
<text x="107" y="2335" class="t33" textLength="965" lengthAdjust="spacingAndGlyphs">At diffusion step <tspan class="i">d</tspan>, interpolated age <tspan class="i">a</tspan><tspan class="u">d</tspan><tspan class="d">t</tspan> and label <tspan class="i">y</tspan><tspan class="u">d</tspan><tspan class="d">t</tspan> are defined as:</text>
<text x="84" y="2403" class="eq" textLength="308" lengthAdjust="spacingAndGlyphs">a<tspan class="u">d</tspan><tspan class="d">t</tspan> = a<tspan class="d">t−1</tspan> + (a<tspan class="d">t</tspan> − a<tspan class="d">t−1</tspan>)</text>
<text class="i" x="409" y="2384" font-size="32" text-anchor="middle">d</text><rect x="396" y="2392" width="27" height="2" fill="#111"/><text class="i" x="409" y="2421" font-size="32" text-anchor="middle">D</text>
<text x="458" y="2403" class="t33">and</text>
<text x="546" y="2403" class="eq" textLength="647" lengthAdjust="spacingAndGlyphs">y<tspan class="u">d</tspan><tspan class="d">t</tspan> = <tspan style="font-style:normal">min</tspan>{c ∈ {1, ..., C} : c ≥ y<tspan class="d">t−1</tspan> + (y<tspan class="d">t</tspan> − y<tspan class="d">t−1</tspan>)</text>
<text class="i" x="1210" y="2384" font-size="32" text-anchor="middle">d</text><rect x="1197" y="2392" width="27" height="2" fill="#111"/><text class="i" x="1210" y="2421" font-size="32" text-anchor="middle">D</text>
<text x="1224" y="2403" class="eq">}.</text>
<text x="1312" y="2403" class="t33">(2)</text>
<text x="107" y="2468" class="t33" textLength="886" lengthAdjust="spacingAndGlyphs">At diffusion step <tspan class="i">d</tspan>, a pseudo-sample <tspan class="i">x</tspan><tspan class="u">d</tspan><tspan class="d">t</tspan> is defined as follows.</text>
<rect x="526" y="2490" width="324" height="62" rx="4" fill="#e6e6fa" stroke="#8c8ce6" stroke-width="1.5"/>
<text x="539" y="2530" class="eq" textLength="295" lengthAdjust="spacingAndGlyphs"><tspan class="bi">x</tspan><tspan class="u">d</tspan><tspan class="d">t</tspan> = λ<tspan class="bi">x̂</tspan><tspan class="u">d</tspan><tspan class="d">t</tspan> + (1 − λ)<tspan class="bi">x̃</tspan><tspan class="u">d</tspan><tspan class="d">t</tspan></text>
<text x="1312" y="2528" class="t33">(3)</text>
<text x="107" y="2596" class="t33" textLength="1218" lengthAdjust="spacingAndGlyphs"><tspan class="bi">x̃</tspan><tspan class="u">d</tspan><tspan class="d">t</tspan> = <tspan class="bi">x</tspan><tspan class="d">t−1</tspan> + (<tspan class="bi">x</tspan><tspan class="d">t</tspan> − <tspan class="bi">x</tspan><tspan class="d">t−1</tspan>)<tspan class="i">d/D</tspan> is a subject-level sample interpolated between <tspan class="bi">x</tspan><tspan class="d">t−1</tspan> and <tspan class="bi">x</tspan><tspan class="d">t</tspan>.</text>
<text x="107" y="2635" class="t33" textLength="659" lengthAdjust="spacingAndGlyphs"><tspan class="bi">x̂</tspan><tspan class="u">d</tspan><tspan class="d">t</tspan> ∼ <tspan class="i">f</tspan><tspan class="d">X|A,Y</tspan>(<tspan class="bi">x</tspan><tspan class="d">t</tspan>|<tspan class="i">a</tspan><tspan class="d">t</tspan>, <tspan class="i">y</tspan><tspan class="d">t</tspan>) is a cohort-level sample.</text>
<text x="107" y="2677" class="t33" textLength="1220" lengthAdjust="spacingAndGlyphs">TDM estimates the difference Δ<tspan class="bi">x</tspan><tspan class="u">d</tspan><tspan class="d">t</tspan> = <tspan class="i">x</tspan><tspan class="u">d</tspan><tspan class="d">t</tspan> − <tspan class="i">x</tspan><tspan class="u">d−1</tspan><tspan class="d">t</tspan> for <tspan class="i">t</tspan> = 2, ..., <tspan class="i">T</tspan> with the following loss:</text>
<text x="379" y="2735" class="eq" textLength="616" lengthAdjust="spacingAndGlyphs">L<tspan class="d" style="font-family:'Liberation Sans';font-style:normal">TDM</tspan> = E<tspan class="d">x,d,Δx</tspan> [||Δ<tspan class="bi">x</tspan><tspan class="u">d</tspan><tspan class="d">t</tspan> − ε<tspan class="d">φ</tspan>(<tspan class="bi">x</tspan><tspan class="u">d</tspan><tspan class="d">t</tspan>, a<tspan class="d">t</tspan>, y<tspan class="d">t</tspan>, d)||<tspan class="u">2</tspan>] .</text>
<text x="1312" y="2735" class="t33">(4)</text>

<!-- ================= COLUMN 2: SAMPLING ================= -->
<g fill="#3333b3">
<path d="M1400,518 L1420,528 L1400,538Z"/><path d="M1400,691 L1420,701 L1400,711Z"/><path d="M1400,1037 L1420,1047 L1400,1057Z"/><path d="M1400,1081 L1420,1091 L1400,1101Z"/>
<path d="M1400,1314 L1420,1324 L1400,1334Z"/><path d="M1400,1614 L1420,1624 L1400,1634Z"/>
<path d="M1400,1929 L1420,1939 L1400,1949Z"/><path d="M1400,1972 L1420,1982 L1400,1992Z"/>
</g>
<text x="1437" y="538" class="t33" textLength="923" lengthAdjust="spacingAndGlyphs">A sample distribution over a cohort defined by Bayes’ Theorem:</text>
<rect x="1661" y="564" width="753" height="105" rx="5" fill="#e6e6fa" stroke="#8c8ce6" stroke-width="1.5"/>
<text x="1673" y="626" class="eq" textLength="325" lengthAdjust="spacingAndGlyphs"><tspan class="bi">x̂</tspan><tspan class="u">d</tspan><tspan class="d">t</tspan> ∼ f<tspan class="d">X|A,Y</tspan>(<tspan class="bi">x</tspan><tspan class="d">t</tspan>|a<tspan class="d">t</tspan>, y<tspan class="d">t</tspan>) =</text>
<text x="2010" y="598" class="eq" font-size="33" textLength="393" lengthAdjust="spacingAndGlyphs">p<tspan class="d">Y|X,A</tspan>(y<tspan class="d">t</tspan>|<tspan class="bi">x</tspan><tspan class="d">t</tspan>, a<tspan class="d">t</tspan>) · f<tspan class="d">X|A</tspan>(<tspan class="bi">x</tspan><tspan class="d">t</tspan>|a<tspan class="d">t</tspan>)</text>
<rect x="2010" y="612" width="394" height="2.5" fill="#111"/>
<text x="2207" y="650" class="eq" font-size="33" text-anchor="middle">p<tspan class="d">Y|A</tspan>(y<tspan class="d">t</tspan>|a<tspan class="d">t</tspan>)</text>
<text x="2661" y="628" class="t33">(5)</text>
<text x="1437" y="711" class="t33" textLength="907" lengthAdjust="spacingAndGlyphs"><tspan class="i">p</tspan><tspan class="d">Y|X,A</tspan>(<tspan class="i">y</tspan><tspan class="d">t</tspan>|<tspan class="bi">x</tspan><tspan class="d">t</tspan>, <tspan class="i">a</tspan><tspan class="d">t</tspan>): A likelihood modeled by an ordinal regression.</text>
<text x="1436" y="754" class="t33">•</text><text x="1436" y="793" class="t33">•</text><text x="1436" y="832" class="t33">•</text><text x="1436" y="948" class="t33">•</text><text x="1432" y="1792" class="t33">•</text>
<text x="1457" y="754" class="t33" textLength="540" lengthAdjust="spacingAndGlyphs"><tspan class="i">y</tspan><tspan class="d">t</tspan>: A categorical and ordinal variable.</text>
<text x="1457" y="793" class="t33" textLength="1043" lengthAdjust="spacingAndGlyphs"><tspan class="i">τ</tspan><tspan class="d">yt</tspan>: A threshold separating the disease stage <tspan class="i">y</tspan><tspan class="d">t</tspan> from the next stage <tspan class="i">y</tspan><tspan class="d">t+1</tspan>.</text>
<text x="1457" y="832" class="t33">Φ(<tspan class="i">x</tspan>) =</text>
<text x="1617" y="815" class="sf" font-size="22" text-anchor="middle">1</text><rect x="1563" y="823" width="108" height="2" fill="#111"/><text x="1617" y="846" class="i" font-size="22" text-anchor="middle">1+exp(−x)</text>
<text x="1672" y="832" class="t33" textLength="807" lengthAdjust="spacingAndGlyphs">: A logistic function representing cumulative probability:</text>
<text x="1673" y="895" class="eq" textLength="731" lengthAdjust="spacingAndGlyphs"><tspan style="font-style:normal">Pr</tspan>(Y ≤ y<tspan class="d">t</tspan> | <tspan class="bi">X</tspan> = <tspan class="bi">x</tspan><tspan class="d">t</tspan>, A = a<tspan class="d">t</tspan>) = Φ(τ<tspan class="d">yt</tspan> − β<tspan class="u">T</tspan><tspan class="d">X</tspan><tspan class="bi">x</tspan><tspan class="d">t</tspan> − β<tspan class="u">T</tspan><tspan class="d">A</tspan>a<tspan class="d">t</tspan>).</text>
<text x="2661" y="895" class="t33">(6)</text>
<text x="1457" y="948" class="t33" textLength="567" lengthAdjust="spacingAndGlyphs">The probability of being at the stage <tspan class="i">y</tspan><tspan class="d">t</tspan>:</text>
<text x="1394" y="1002" class="eq" textLength="1249" lengthAdjust="spacingAndGlyphs"><tspan style="font-style:normal">Pr</tspan>(Y<tspan class="rd" style="font-style:normal">=</tspan> y<tspan class="d">t</tspan> | <tspan class="bi">X</tspan> = <tspan class="bi">x</tspan><tspan class="d">t</tspan>, A = a<tspan class="d">t</tspan>) = <tspan style="font-style:normal">Pr</tspan>(Y ≤ y<tspan class="d rd">t</tspan> | <tspan class="bi">X</tspan> = <tspan class="bi">x</tspan><tspan class="d">t</tspan>, A = a<tspan class="d">t</tspan>) − <tspan style="font-style:normal">Pr</tspan>(Y ≤ y<tspan class="d rd">t−1</tspan> | <tspan class="bi">X</tspan> = <tspan class="bi">x</tspan><tspan class="d">t</tspan>, A = a<tspan class="d">t</tspan>)</text>
<text x="2661" y="1002" class="t33">(7)</text>
<text x="1437" y="1057" class="t33" textLength="944" lengthAdjust="spacingAndGlyphs"><tspan class="i">f</tspan><tspan class="d">X|A</tspan>(<tspan class="bi">x</tspan><tspan class="d">t</tspan>|<tspan class="i">a</tspan><tspan class="d">t</tspan>): A prior estimated by kernel density estimation (KDE).</text>
<text x="1437" y="1101" class="t33" textLength="576" lengthAdjust="spacingAndGlyphs"><tspan class="i">p</tspan><tspan class="d">Y|A</tspan>(<tspan class="i">y</tspan><tspan class="d">t</tspan>|<tspan class="i">a</tspan><tspan class="d">t</tspan>): A constant for normalization.</text>

<!-- ================= COLUMN 2: MULTI-DOMAIN ================= -->
<text x="1385" y="1251" class="t33" textLength="1267" lengthAdjust="spacingAndGlyphs"><tspan class="b">Motivation</tspan>: Integrate data from multiple sources to handle class imbalance and limited</text>
<text x="1385" y="1291" class="t33" textLength="468" lengthAdjust="spacingAndGlyphs">data availability of medical data.</text>
<text x="1437" y="1334" class="t33" textLength="1121" lengthAdjust="spacingAndGlyphs">Use a domain condition <tspan class="i">m</tspan><tspan class="d">k</tspan> (<tspan class="i">k</tspan> = 1, ..., <tspan class="i">K</tspan>), where <tspan class="i">K</tspan> is the number of domains.</text>
<text x="1385" y="1378" class="t33 b" textLength="511" lengthAdjust="spacingAndGlyphs">(1) RDM with a domain condition</text>
<text x="1712" y="1431" class="eq" textLength="649" lengthAdjust="spacingAndGlyphs">L<tspan class="d" style="font-family:'Liberation Sans';font-style:normal">RDM</tspan> = E<tspan class="d">x,d,ε∼N(0,1)</tspan>||ε<tspan class="u">d</tspan><tspan class="d">t</tspan> − ε<tspan class="d">θ</tspan>(<tspan class="bi">x</tspan><tspan class="u">d</tspan><tspan class="d">t</tspan>, a<tspan class="d">t</tspan>, y<tspan class="d">t</tspan>, m<tspan class="d">k</tspan>, d)||<tspan class="u">2</tspan></text>
<text x="2661" y="1431" class="t33">(8)</text>
<text x="1385" y="1484" class="t33 b" textLength="508" lengthAdjust="spacingAndGlyphs">(1) TDM with a domain condition</text>
<text x="1720" y="1535" class="eq" textLength="635" lengthAdjust="spacingAndGlyphs">L<tspan class="d" style="font-family:'Liberation Sans';font-style:normal">TDM</tspan> = E<tspan class="d">x,d,Δx</tspan>||Δ<tspan class="bi">x</tspan><tspan class="u">d</tspan><tspan class="d">t</tspan> − ε<tspan class="d">φ</tspan>(<tspan class="bi">x</tspan><tspan class="u">d</tspan><tspan class="d">t</tspan>, a<tspan class="d">t</tspan>, y<tspan class="d">t</tspan>, m<tspan class="d">k</tspan>, d)||<tspan class="u">2</tspan>.</text>
<text x="2661" y="1535" class="t33">(9)</text>
<text x="1437" y="1634" class="t33" textLength="905" lengthAdjust="spacingAndGlyphs"><tspan class="i">f</tspan><tspan class="d">X|A,Y</tspan>(<tspan class="bi">x</tspan><tspan class="d">t</tspan>|<tspan class="i">a</tspan><tspan class="d">t</tspan>, <tspan class="i">y</tspan><tspan class="d">t</tspan>) is refined as a mixture distribution <tspan class="i">f̄</tspan> as follows:</text>
<text x="1631" y="1705" class="eq" textLength="380" lengthAdjust="spacingAndGlyphs"><tspan class="bi">x̂</tspan><tspan class="u">d</tspan><tspan class="d">t</tspan> ∼ f̄<tspan class="d">X|A,Y,M</tspan>(<tspan class="bi">x</tspan><tspan class="d">t</tspan>|a<tspan class="d">t</tspan>, y<tspan class="d">t</tspan>, m<tspan class="d">k</tspan>) =</text>
<text x="2075" y="1720" class="sf" font-size="66" text-anchor="middle">∑</text>
<text x="2075" y="1664" class="i" font-size="24" text-anchor="middle">K</text>
<text x="2075" y="1752" class="i" font-size="24" text-anchor="middle">k=1</text>
<text x="2105" y="1705" class="eq" textLength="338" lengthAdjust="spacingAndGlyphs">α<tspan class="d">k</tspan> f<tspan class="u">k</tspan><tspan class="d">X|A,Y,M</tspan>(<tspan class="bi">x</tspan><tspan class="d">t</tspan>|a<tspan class="d">t</tspan>, y<tspan class="d">t</tspan>, m<tspan class="d">k</tspan>)</text>
<text x="2643" y="1705" class="t33">(10)</text>
<text x="1457" y="1792" class="eq" font-size="33">α<tspan class="d">k</tspan> =</text>
<text x="1575" y="1779" class="i" font-size="22" text-anchor="middle">N<tspan class="d">k</tspan></text><rect x="1533" y="1786" width="86" height="2" fill="#111"/><text x="1575" y="1813" class="i" font-size="22" text-anchor="middle">∑<tspan class="d">k=1</tspan> N<tspan class="d">k</tspan></text>
<text x="1621" y="1792" class="t33" textLength="1048" lengthAdjust="spacingAndGlyphs">: A mixing coefficient, where <tspan class="i">N</tspan><tspan class="d">k</tspan> is the number of samples in domain <tspan class="i">m</tspan><tspan class="d">k</tspan>.</text>

<!-- ================= COLUMN 2: DATASETS ================= -->
<text x="1437" y="1949" class="t33" textLength="1232" lengthAdjust="spacingAndGlyphs">ADNI: The number of time points: 2-10. Mean time interval per biomarker: 1-2 years.</text>
<text x="1437" y="1992" class="t33" textLength="712" lengthAdjust="spacingAndGlyphs">OASIS: All 2 time points, spaced 6 months apart.</text>
<text x="1377" y="2046" class="cap" textLength="1320" lengthAdjust="spacingAndGlyphs"><tspan class="bl">Table:</tspan> Demographics of the ADNI and OASIS datasets. The number of subjects was calculated based on the</text>
<text x="1377" y="2078" class="cap" textLength="1284" lengthAdjust="spacingAndGlyphs">baseline time point. The number of records is the total count of cross-sectional samples for all time points.</text>
<g stroke="#111" fill="none">
<path d="M1389,2100 L2686,2100" stroke-width="3"/>
<path d="M1389,2141 L2686,2141" stroke-width="1.5"/>
<path d="M1669,2183 L2686,2183 M1669,2223 L2686,2223 M1669,2306 L2686,2306 M1669,2347 L2686,2347 M1669,2429 L2686,2429 M1669,2470 L2686,2470 M1669,2553 L2686,2553 M1669,2594 L2686,2594 M1669,2676 L2686,2676 M1669,2717 L2686,2717" stroke-width="1" stroke="#555"/>
<path d="M1508,2265 L2686,2265 M1508,2388 L2686,2388 M1508,2511 L2686,2511" stroke-width="1.2"/>
<path d="M1389,2635 L2686,2635" stroke-width="1.2"/>
<path d="M1389,2759 L2686,2759" stroke-width="3"/>
<path d="M1508,2100 L1508,2759 M1669,2100 L1669,2759 M1926,2100 L1926,2759 M1931,2100 L1931,2759" stroke-width="1.2"/>
</g>
<text x="1394" y="2130" class="t3 b" font-size="30" textLength="110" lengthAdjust="spacingAndGlyphs">Dataset</text>
<text x="1514" y="2130" class="t3 b" font-size="30" textLength="150" lengthAdjust="spacingAndGlyphs">Biomarker</text>
<text y="2130" class="t3 b" font-size="30" text-anchor="middle"><tspan x="1797">Category</tspan><tspan x="2004">CN</tspan><tspan x="2155">SMC</tspan><tspan x="2307">EMCI</tspan><tspan x="2457">LMCI</tspan><tspan x="2609">AD</tspan></text>
<text x="1590" y="2196" class="t3" text-anchor="middle">Cortical</text><text x="1590" y="2223" class="t3" text-anchor="middle">Thickness</text>
<text x="1590" y="2336" class="t3" text-anchor="middle">Amyloid</text>
<text x="1590" y="2460" class="t3" text-anchor="middle">FDG</text>
<text x="1590" y="2583" class="t3" text-anchor="middle">Tau</text>
<text x="1590" y="2707" class="t3" text-anchor="middle">Tau</text>
<text x="1449" y="2397" class="t3" text-anchor="middle">ADNI</text>
<text x="1449" y="2707" class="t3" text-anchor="middle">OASIS</text>
<text y="2173" class="t3" text-anchor="middle"><tspan x="1797"># of subjects</tspan><tspan x="2004">50</tspan><tspan x="2155">32</tspan><tspan x="2307">64</tspan><tspan x="2457">23</tspan><tspan x="2609">9</tspan></text>
<text y="2213" class="t3" text-anchor="middle"><tspan x="1797"># of records</tspan><tspan x="2004">112</tspan><tspan x="2155">72</tspan><tspan x="2307">152</tspan><tspan x="2457">56</tspan><tspan x="2609">39</tspan></text>
<text y="2254" class="t3" text-anchor="middle"><tspan x="1797">Age (Mean ± Std)</tspan><tspan x="2004">71.3 ± 4.2</tspan><tspan x="2155">72.1 ± 4.7</tspan><tspan x="2307">72.6 ± 6.9</tspan><tspan x="2457">74.2 ± 5.2</tspan><tspan x="2609">76.5 ± 7.1</tspan></text>
<text y="2296" class="t3" text-anchor="middle"><tspan x="1797"># of subjects</tspan><tspan x="2004">150</tspan><tspan x="2155">87</tspan><tspan x="2307">238</tspan><tspan x="2457">158</tspan><tspan x="2609">54</tspan></text>
<text y="2336" class="t3" text-anchor="middle"><tspan x="1797"># of records</tspan><tspan x="2004">405</tspan><tspan x="2155">231</tspan><tspan x="2307">715</tspan><tspan x="2457">376</tspan><tspan x="2609">270</tspan></text>
<text y="2378" class="t3" text-anchor="middle"><tspan x="1797">Age (Mean ± Std)</tspan><tspan x="2004">71.9 ± 3.9</tspan><tspan x="2155">73.0 ± 4.9</tspan><tspan x="2307">73.3 ± 7.1</tspan><tspan x="2457">74.1 ± 7.9</tspan><tspan x="2609">76.0 ± 7.5</tspan></text>
<text y="2420" class="t3" text-anchor="middle"><tspan x="1797"># of subjects</tspan><tspan x="2004">147</tspan><tspan x="2155">4</tspan><tspan x="2307">151</tspan><tspan x="2457">262</tspan><tspan x="2609">114</tspan></text>
<text y="2460" class="t3" text-anchor="middle"><tspan x="1797"># of records</tspan><tspan x="2004">415</tspan><tspan x="2155">4</tspan><tspan x="2307">345</tspan><tspan x="2457">966</tspan><tspan x="2609">580</tspan></text>
<text y="2501" class="t3" text-anchor="middle"><tspan x="1797">Age (Mean ± Std)</tspan><tspan x="2004">72.2 ± 3.5</tspan><tspan x="2155">73.9 ± 4.0</tspan><tspan x="2307">75.4 ± 5.8</tspan><tspan x="2457">76.6 ± 6.9</tspan><tspan x="2609">77.2 ± 6.5</tspan></text>
<text y="2543" class="t3" text-anchor="middle"><tspan x="1797"># of subjects</tspan><tspan x="2004">30</tspan><tspan x="2155">37</tspan><tspan x="2307">48</tspan><tspan x="2457">31</tspan><tspan x="2609">20</tspan></text>
<text y="2583" class="t3" text-anchor="middle"><tspan x="1797"># of records</tspan><tspan x="2004">65</tspan><tspan x="2155">85</tspan><tspan x="2307">118</tspan><tspan x="2457">76</tspan><tspan x="2609">55</tspan></text>
<text y="2625" class="t3" text-anchor="middle"><tspan x="1797">Age (Mean ± Std)</tspan><tspan x="2004">68.4 ± 3.7</tspan><tspan x="2155">68.9 ± 3.8</tspan><tspan x="2307">69.8 ± 5.9</tspan><tspan x="2457">71.0 ± 7.4</tspan><tspan x="2609">78.8 ± 8.4</tspan></text>
<text y="2666" class="t3" text-anchor="middle"><tspan x="1797"># of subjects</tspan><tspan x="2004">31</tspan><tspan x="2155">-</tspan><tspan x="2307">-</tspan><tspan x="2457">-</tspan><tspan x="2609">1</tspan></text>
<text y="2707" class="t3" text-anchor="middle"><tspan x="1797"># of records</tspan><tspan x="2004">60</tspan><tspan x="2155">-</tspan><tspan x="2307">-</tspan><tspan x="2457">-</tspan><tspan x="2609">4</tspan></text>
<text y="2748" class="t3" text-anchor="middle"><tspan x="1797">Age (Mean ± Std)</tspan><tspan x="2004">63.2 ± 7.5</tspan><tspan x="2155">-</tspan><tspan x="2307">-</tspan><tspan x="2457">-</tspan><tspan x="2609">71.9 ± 1.6</tspan></text>

<!-- ================= COLUMN 3: QUANTITATIVE ================= -->
<text x="2727" y="518" class="cap" textLength="1307" lengthAdjust="spacingAndGlyphs"><tspan class="bl">Table:</tspan> Generation performance of single-domain learning. Metrics: (1) Wasserstein Distance (WD), (2) Root</text>
<text x="2727" y="552" class="cap" textLength="850" lengthAdjust="spacingAndGlyphs">Mean Squared Error (RMSE), (3) Jensen-Shannon Divergence (JSD).</text>
<rect x="2740" y="857" width="1290" height="25" fill="#e6e6e6"/>
<g stroke="#111" fill="none">
<path d="M2740,568 L4030,568" stroke-width="2.5"/>
<path d="M2865,594 L3250,594 M3254,594 L3638,594 M3642,594 L4030,594" stroke-width="1"/>
<path d="M2740,620 L4030,620" stroke-width="1.5"/>
<path d="M2740,882 L4030,882" stroke-width="2.5"/>
<path d="M2864,568 L2864,882 M3252,568 L3252,882 M3640,568 L3640,882" stroke-width="1"/>
</g>
<text x="2745" y="603" class="b" font-size="22">Model</text>
<text y="587" class="b" font-size="22" text-anchor="middle"><tspan x="3058">Cortical Thickness</tspan><tspan x="3446">Amyloid</tspan><tspan x="3835">FDG</tspan></text>
<text y="613" class="b" font-size="21" text-anchor="middle"><tspan x="2926">WD↓</tspan><tspan x="3050">RMSE↓</tspan><tspan x="3180">JSD↓</tspan><tspan x="3315">WD↓</tspan><tspan x="3440">RMSE↓</tspan><tspan x="3572">JSD↓</tspan><tspan x="3703">WD↓</tspan><tspan x="3829">RMSE↓</tspan><tspan x="3960">JSD↓</tspan></text>
<text x="2745" y="638" class="t1">SMOTE</text><text x="2745" y="664" class="t1">CRow</text><text x="2745" y="690" class="t1">CTGAN</text><text x="2745" y="716" class="t1">CTAB-GAN</text><text x="2745" y="742" class="t1">CTAB-GAN+</text><text x="2745" y="768" class="t1">GOGGLE</text><text x="2745" y="793" class="t1">TVAE</text><text x="2745" y="819" class="t1">DDPM</text><text x="2745" y="845" class="t1">TabDDPM</text><text x="2745" y="872" class="t1">ConDOR</text>
<text y="638" class="t1" text-anchor="middle"><tspan x="2926">8.68 ± 0.0</tspan><tspan x="3050">0.57 ± 0.0</tspan><tspan x="3180">0.025 ± 0.0</tspan><tspan x="3315">5.82 ± 0.0</tspan><tspan x="3440">0.34 ± 0.0</tspan><tspan x="3572">0.014 ± 0.0</tspan><tspan x="3703">3.19 ± 0.0</tspan><tspan x="3829">0.10 ± 0.0</tspan><tspan x="3960">0.002 ± 0.0</tspan></text>
<text y="664" class="t1" text-anchor="middle"><tspan x="2926">5.13 ± 0.13</tspan><tspan x="3050">0.78 ± 0.014</tspan><tspan x="3180">0.042 ± 0.001</tspan><tspan x="3315">5.37 ± 0.40</tspan><tspan x="3440">0.85 ± 0.023</tspan><tspan x="3572">0.061 ± 0.011</tspan><tspan x="3703">2.86 ± 0.04</tspan><tspan x="3829">0.37 ± 0.007</tspan><tspan x="3960">0.012 ± 0.0</tspan></text>
<text y="690" class="t1" text-anchor="middle"><tspan x="2926">7.90 ± 0.12</tspan><tspan x="3050">0.37 ± 0.005</tspan><tspan x="3180">0.022 ± 0.001</tspan><tspan x="3315">11.00 ± 0.02</tspan><tspan x="3440">0.43 ± 0.001</tspan><tspan x="3572">0.036 ± 0.0</tspan><tspan x="3703">4.52 ± 0.02</tspan><tspan x="3829">0.13 ± 0.001</tspan><tspan x="3960">0.003 ± 0.0</tspan></text>
<text y="716" class="t1" text-anchor="middle"><tspan x="2926">6.43 ± 0.29</tspan><tspan x="3050">0.35 ± 0.033</tspan><tspan x="3180">0.016 ± 0.001</tspan><tspan x="3315">7.93 ± 0.63</tspan><tspan x="3440">0.42 ± 0.034</tspan><tspan x="3572">0.023 ± 0.004</tspan><tspan x="3703">3.47 ± 0.03</tspan><tspan x="3829">0.11 ± 0.002</tspan><tspan x="3960">0.002 ± 0.0</tspan></text>
<text y="742" class="t1" text-anchor="middle"><tspan x="2926">6.09 ± 0.40</tspan><tspan x="3050">0.34 ± 0.054</tspan><tspan x="3180">0.014 ± 0.001</tspan><tspan x="3315">6.50 ± 0.29</tspan><tspan x="3440">0.35 ± 0.017</tspan><tspan x="3572">0.015 ± 0.001</tspan><tspan x="3703">3.58 ± 0.03</tspan><tspan x="3829">0.11 ± 0.007</tspan><tspan x="3960">0.002 ± 0.0</tspan></text>
<text y="768" class="t1" text-anchor="middle"><tspan x="2926">8.05 ± 0.39</tspan><tspan x="3050">0.34 ± 0.016</tspan><tspan x="3180">0.020 ± 0.001</tspan><tspan x="3315">16.62 ± 0.16</tspan><tspan x="3440">0.65 ± 0.006</tspan><tspan x="3572">0.010 ± 0.0</tspan><tspan x="3703">9.33 ± 0.22</tspan><tspan x="3829">0.25 ± 0.006</tspan><tspan x="3960">0.010 ± 0.002</tspan></text>
<text y="793" class="t1" text-anchor="middle"><tspan x="2926">5.69 ± 0.59</tspan><tspan x="3050">0.38 ± 0.053</tspan><tspan x="3180">0.013 ± 0.003</tspan><tspan x="3315">7.24 ± 0.21</tspan><tspan x="3440">0.39 ± 0.030</tspan><tspan x="3572">0.015 ± 0.002</tspan><tspan x="3703">4.52 ± 0.42</tspan><tspan x="3829">0.16 ± 0.019</tspan><tspan x="3960">0.004 ± 0.001</tspan></text>
<text y="819" class="t1" text-anchor="middle"><tspan x="2926">9.71 ± 3.94</tspan><tspan x="3050">0.59 ± 0.160</tspan><tspan x="3180">0.028 ± 0.017</tspan><tspan x="3315">9.34 ± 2.51</tspan><tspan x="3440">0.66 ± 0.282</tspan><tspan x="3572">0.026 ± 0.015</tspan><tspan x="3703">2.90 ± 0.46</tspan><tspan x="3829">0.10 ± 0.015</tspan><tspan x="3960" class="b">0.001 ± 0.001</tspan></text>
<text y="845" class="t1" text-anchor="middle"><tspan x="2926">14.23 ± 0.02</tspan><tspan x="3050">0.61 ± 0.0</tspan><tspan x="3180">0.070 ± 0.001</tspan><tspan x="3315">31.28 ± 0.05</tspan><tspan x="3440">1.18 ± 0.001</tspan><tspan x="3572">0.145 ± 0.001</tspan><tspan x="3703">11.59 ± 0.04</tspan><tspan x="3829">0.32 ± 0.001</tspan><tspan x="3960">0.018 ± 0.0</tspan></text>
<text y="872" class="t1 b" text-anchor="middle"><tspan x="2926">4.25 ± 0.02</tspan><tspan x="3050">0.21 ± 0.002</tspan><tspan x="3180">0.007 ± 0.001</tspan><tspan x="3315">5.27 ± 0.09</tspan><tspan x="3440">0.31 ± 0.012</tspan><tspan x="3572">0.008 ± 0.001</tspan><tspan x="3703">2.49 ± 0.02</tspan><tspan x="3829">0.09 ± 0.001</tspan><tspan x="3960">0.001 ± 0.0</tspan></text>
<g stroke="#111" stroke-width="1.3">
<path d="M3394,642 L3486,642 M3518,642 L3626,642 M3783,642 L3875,642 M3903,642 L4017,642"/>
<path d="M2868,668 L2984,668 M3257,668 L3373,668 M3645,668 L3761,668"/>
<path d="M3903,720 L4017,720"/>
<path d="M2990,746 L3110,746 M3903,746 L4017,746"/>
<path d="M2990,772 L3110,772"/>
<path d="M3117,797 L3243,797"/>
<path d="M3769,823 L3889,823"/>
</g>

<text x="2727" y="933" class="cap" textLength="1311" lengthAdjust="spacingAndGlyphs"><tspan class="bl">Table:</tspan> Generation performance of multi-domain learning on Tau of ADNI and OASIS test sets, along with the</text>
<text x="2727" y="966" class="cap" textLength="1320" lengthAdjust="spacingAndGlyphs">generation time for sampling 36 sequences (i.e., the number of test data) and the average time per sequence.</text>
<rect x="2755" y="1294" width="1253" height="31" fill="#e6e6e6"/>
<g stroke="#111" fill="none">
<path d="M2755,983 L4008,983" stroke-width="2.5"/>
<path d="M2755,1014 L4008,1014" stroke-width="1.5"/>
<path d="M2755,1326 L4008,1326" stroke-width="2.5"/>
<path d="M2945,983 L2945,1326 M3474,983 L3474,1326" stroke-width="1"/>
</g>
<text x="2758" y="1006" class="b" font-size="26">Model</text>
<text y="1006" class="b" font-size="26" text-anchor="middle"><tspan x="3037">WD↓</tspan><tspan x="3215">RMSE↓</tspan><tspan x="3389">JSD↓</tspan></text>
<text x="3607" y="1006" class="b" font-size="26" text-anchor="middle" textLength="258" lengthAdjust="spacingAndGlyphs">Test set gen. time (s)</text>
<text x="3874" y="1006" class="b" font-size="26" text-anchor="middle" textLength="262" lengthAdjust="spacingAndGlyphs">Per-seq. gen. time (s)</text>
<text x="2758" y="1036" class="t2">SMOTE</text><text x="2758" y="1066" class="t2">CRow</text><text x="2758" y="1097" class="t2">CTGAN</text><text x="2758" y="1127" class="t2">CTAB-GAN</text><text x="2758" y="1158" class="t2">CTAB-GAN+</text><text x="2758" y="1189" class="t2">GOGGLE</text><text x="2758" y="1220" class="t2">TVAE</text><text x="2758" y="1250" class="t2">DDPM</text><text x="2758" y="1282" class="t2">TabDDPM</text><text x="2758" y="1313" class="t2" textLength="182" lengthAdjust="spacingAndGlyphs">ConDOR (Ours)</text>
<text y="1036" class="t2" text-anchor="middle"><tspan x="3037">7.146 ± 0.0</tspan><tspan x="3215">0.460 ± 0.0</tspan><tspan x="3389">0.029 ± 0.0</tspan><tspan x="3607">29.85</tspan><tspan x="3874">0.83</tspan></text>
<text y="1066" class="t2" text-anchor="middle"><tspan x="3037">9.494 ± 0.188</tspan><tspan x="3215">0.599 ± 0.027</tspan><tspan x="3389">0.045 ± 0.045</tspan><tspan x="3607" class="b">1.39</tspan><tspan x="3874" class="b">0.04</tspan></text>
<text x="3037" y="1097" class="t2" text-anchor="middle" textLength="176" lengthAdjust="spacingAndGlyphs">19.545 ± 0.416</text>
<text y="1097" class="t2" text-anchor="middle"><tspan x="3215">0.441 ± 0.014</tspan><tspan x="3389">0.280 ± 0.025</tspan><tspan x="3607">2.97</tspan><tspan x="3874">0.08</tspan></text>
<text y="1127" class="t2" text-anchor="middle"><tspan x="3037">8.950 ± 0.512</tspan><tspan x="3215">0.455 ± 0.036</tspan><tspan x="3389">0.078 ± 0.011</tspan><tspan x="3607">26.60</tspan><tspan x="3874">0.74</tspan></text>
<text y="1158" class="t2" text-anchor="middle"><tspan x="3037">7.738 ± 1.211</tspan><tspan x="3215">0.393 ± 0.048</tspan><tspan x="3389">0.034 ± 0.005</tspan><tspan x="3607">48.90</tspan><tspan x="3874">1.36</tspan></text>
<text y="1189" class="t2" text-anchor="middle"><tspan x="3037">8.380 ± 0.445</tspan><tspan x="3215">0.343 ± 0.014</tspan><tspan x="3389" class="b">0.012 ± 0.0</tspan><tspan x="3607">2.08</tspan><tspan x="3874">0.06</tspan></text>
<text y="1220" class="t2" text-anchor="middle"><tspan x="3037" class="b">5.096 ± 0.303</tspan><tspan x="3215">0.300 ± 0.020</tspan><tspan x="3389">0.018 ± 0.003</tspan><tspan x="3607">4.33</tspan><tspan x="3874">0.12</tspan></text>
<text y="1250" class="t2" text-anchor="middle"><tspan x="3037">9.671 ± 1.738</tspan><tspan x="3215">0.649 ± 0.235</tspan><tspan x="3389">0.032 ± 0.014</tspan><tspan x="3607">81.12</tspan><tspan x="3874">2.25</tspan></text>
<text x="3037" y="1282" class="t2" text-anchor="middle" textLength="176" lengthAdjust="spacingAndGlyphs">50.592 ± 0.404</text>
<text y="1282" class="t2" text-anchor="middle"><tspan x="3215">1.890 ± 0.018</tspan><tspan x="3389">0.400 ± 0.0</tspan><tspan x="3607">151.09</tspan><tspan x="3874">4.20</tspan></text>
<text y="1313" class="t2" text-anchor="middle"><tspan x="3037">5.625 ± 0.040</tspan><tspan x="3215" class="b">0.293 ± 0.011</tspan><tspan x="3389" class="b">0.012 ± 0.0</tspan><tspan x="3607">65.7</tspan><tspan x="3874">1.83</tspan></text>
<g stroke="#111" stroke-width="1.5">
<path d="M3582,1193 L3632,1193 M3849,1193 L3899,1193"/>
<path d="M3137,1225 L3293,1225 M3311,1225 L3467,1225"/>
<path d="M2959,1318 L3115,1318"/>
</g>

<!-- ================= COLUMN 3: EFFECTS (FDG) ================= -->
<g fill="none" stroke="#1f3344" stroke-width="3">
<rect x="2810" y="1417" width="362" height="229"/><rect x="3213" y="1417" width="362" height="229"/><rect x="3616" y="1417" width="362" height="229"/>
</g>
<use href="#fL1" transform="translate(2836,1427) scale(1.44,0.96)"/>
<use href="#fM1" transform="translate(2997,1427) scale(1.44,0.96)"/>
<use href="#fL1" transform="translate(2836,1534) scale(1.44,0.96)"/>
<use href="#fM1" transform="translate(2997,1534) scale(1.44,0.96)"/>
<use href="#fL1" transform="translate(3239,1427) scale(1.44,0.96)"/>
<use href="#fM1" transform="translate(3400,1427) scale(1.44,0.96)"/>
<use href="#fL1" transform="translate(3239,1534) scale(1.44,0.96)"/>
<use href="#fM1" transform="translate(3400,1534) scale(1.44,0.96)"/>
<use href="#fL3" transform="translate(3642,1427) scale(1.44,0.96)"/>
<use href="#fM3" transform="translate(3803,1427) scale(1.44,0.96)"/>
<use href="#fL1" transform="translate(3642,1534) scale(1.44,0.96)"/>
<use href="#fM2" transform="translate(3803,1534) scale(1.44,0.96)"/>
<use href="#fL1" transform="translate(3655,1670) scale(1.45,1.0)"/>
<use href="#fM2" transform="translate(3806,1670) scale(1.45,1.0)"/>
<use href="#fL2" transform="translate(2836,1806) scale(1.44,0.99)"/>
<use href="#fM2" transform="translate(2997,1806) scale(1.44,0.99)"/>
<use href="#fL2" transform="translate(3241,1806) scale(1.44,0.99)"/>
<use href="#fM2" transform="translate(3402,1806) scale(1.44,0.99)"/>
<use href="#fL4" transform="translate(3646,1806) scale(1.44,0.99)"/>
<use href="#fM1" transform="translate(3807,1806) scale(1.44,0.99)"/>
<g fill="#fff"><rect x="2862" y="1638" width="256" height="28"/><rect x="3268" y="1638" width="256" height="28"/><rect x="3688" y="1638" width="226" height="28"/></g>
<text class="sf" x="2990" y="1658" font-size="28" text-anchor="middle">age: 79.1 / label: EMCI</text>
<text class="sf" x="3396" y="1658" font-size="28" text-anchor="middle">age: 81.1 / label: EMCI</text>
<text class="sf" x="3801" y="1658" font-size="28" text-anchor="middle">age: 84.9 / label: AD</text>
<text class="sf" x="3799" y="1796" font-size="28" text-anchor="middle">age: 84.9 / label: <tspan class="bs">EMCI</tspan></text>
<text class="sf" x="2990" y="1930" font-size="28" text-anchor="middle">age: <tspan class="bs">60</tspan> / label: EMCI</text>
<text class="sf" x="3402" y="1930" font-size="28" text-anchor="middle">age: <tspan class="bs">61</tspan> / label: EMCI</text>
<text class="sf" x="3799" y="1930" font-size="28" text-anchor="middle">age: <tspan class="bs">62</tspan> / label: AD</text>
<path d="M3396,1666 L3396,1717 L3618,1717" stroke="#111" stroke-width="2.5" stroke-dasharray="8,6" fill="none"/>
<polygon points="3618,1700 3640,1717 3618,1734" fill="#111"/>
<text class="sf" x="3513" y="1708" font-size="30" text-anchor="middle">EMCI → EMCI</text>
<text class="bs" x="3198" y="1749" font-size="26">G_front_sup</text>
<path d="M3333,1743 L3802,1743" stroke="#111" stroke-width="2.5"/>
<ellipse cx="3845" cy="1707" rx="24" ry="58" transform="rotate(32 3845 1707)" fill="none" stroke="#111" stroke-width="3"/>
<text class="bs" x="2851" y="1784" font-size="26">G_and_S_cingul-Ant</text>
<path d="M2967,1795 L3022,1850" stroke="#111" stroke-width="2"/>
<ellipse cx="3024" cy="1868" rx="21" ry="34" transform="rotate(-25 3024 1868)" fill="none" stroke="#111" stroke-width="3"/>
<text class="bs" x="3115" y="1788" font-size="26">G_front_inf-Triangul</text>
<path d="M3333,1780 L3568,1780 L3748,1855" stroke="#111" stroke-width="2" fill="none"/>
<ellipse cx="3753" cy="1866" rx="21" ry="40" fill="none" stroke="#111" stroke-width="3"/>
<rect x="4004" y="1456" width="17" height="431" fill="url(#cbF)"/>
<text class="sf" x="4028" y="1472" font-size="30">2</text>
<text class="sf" x="4028" y="1899" font-size="30">0</text>
<path d="M2830,1944 L3968,1944" stroke="#111" stroke-width="3"/>
<polygon points="3966,1935 3983,1944 3966,1953" fill="#111"/>
<path d="M2989,1936 L2989,1953 M3392,1936 L3392,1953 M3799,1936 L3799,1953" stroke="#111" stroke-width="2.5"/>
<text class="sf" x="3990" y="1955" font-size="32">Time</text>
<text class="i" x="2989" y="1971" font-size="30" text-anchor="middle">t <tspan style="font-style:normal">= 1</tspan></text>
<text class="i" x="3392" y="1971" font-size="30" text-anchor="middle">t <tspan style="font-style:normal">= 2</tspan></text>
<text class="i" x="3799" y="1971" font-size="30" text-anchor="middle">t <tspan style="font-style:normal">= 3</tspan></text>
<text class="sf" transform="translate(2754,1472) rotate(-90)" font-size="29" text-anchor="middle" textLength="82" lengthAdjust="spacingAndGlyphs">Ground</text>
<text class="sf" transform="translate(2786,1470) rotate(-90)" font-size="29" text-anchor="middle" textLength="58" lengthAdjust="spacingAndGlyphs">Truth</text>
<text class="sf" transform="translate(2771,1578) rotate(-90)" font-size="29" text-anchor="middle" textLength="92" lengthAdjust="spacingAndGlyphs">Sampled</text>
<text class="sf" transform="translate(2754,1725) rotate(-90)" font-size="29" text-anchor="middle" textLength="90" lengthAdjust="spacingAndGlyphs">Sampled</text>
<text class="sf" transform="translate(2786,1722) rotate(-90)" font-size="29" text-anchor="middle" textLength="168" lengthAdjust="spacingAndGlyphs">(no progression)</text>
<text class="sf" transform="translate(2754,1882) rotate(-90)" font-size="29" text-anchor="middle" textLength="90" lengthAdjust="spacingAndGlyphs">Sampled</text>
<text class="sf" transform="translate(2786,1882) rotate(-90)" font-size="29" text-anchor="middle" textLength="127" lengthAdjust="spacingAndGlyphs">(early onset)</text>
<text x="2727" y="2000" class="cap" textLength="1244" lengthAdjust="spacingAndGlyphs"><tspan class="bl">Figure:</tspan> Generation results of FDG SUVR. The first row is the ground truth, and the second panel is the</text>
<text x="2727" y="2032" class="cap" textLength="1316" lengthAdjust="spacingAndGlyphs">generated results with the same conditions. The third row is the generated results assuming the disease has</text>
<text x="2727" y="2066" class="cap" textLength="1002" lengthAdjust="spacingAndGlyphs">not manifested at <tspan class="i">t</tspan> = 3, while the bottom is the results with younger ages in sixties.</text>

<!-- ================= COLUMN 3: TAU FIGURE ================= -->
<g fill="none" stroke="#1f3344" stroke-width="3">
<rect x="2808" y="2121" width="509" height="308"/><rect x="3414" y="2121" width="509" height="308"/>
<rect x="2808" y="2448" width="509" height="146"/><rect x="3414" y="2446" width="509" height="145"/>
</g>
<use href="#tA" transform="translate(2821,2130) scale(1.9,1.28)"/>
<use href="#tB" transform="translate(3106,2130) scale(1.9,1.28)"/>
<use href="#tC" transform="translate(3424,2130) scale(1.9,1.28)"/>
<use href="#tD" transform="translate(3720,2130) scale(1.9,1.28)"/>
<use href="#tE" transform="translate(2821,2287) scale(1.9,1.28)"/>
<use href="#tF" transform="translate(3106,2287) scale(1.9,1.28)"/>
<use href="#tG" transform="translate(3424,2287) scale(1.9,1.28)"/>
<use href="#tH" transform="translate(3720,2287) scale(1.9,1.28)"/>
<use href="#tI" transform="translate(2821,2455) scale(1.9,1.28)"/>
<use href="#tJ" transform="translate(3106,2455) scale(1.9,1.28)"/>
<use href="#tK" transform="translate(3424,2455) scale(1.9,1.28)"/>
<use href="#tL" transform="translate(3720,2455) scale(1.9,1.28)"/>
<g fill="#fff"><rect x="3008" y="2108" width="110" height="30"/><rect x="3620" y="2108" width="98" height="30"/><rect x="3016" y="2436" width="94" height="30"/><rect x="3608" y="2434" width="120" height="30"/></g>
<text class="sf" x="3063" y="2134" font-size="34" text-anchor="middle">OASIS</text>
<text class="sf" x="3668" y="2134" font-size="34" text-anchor="middle">ADNI</text>
<text class="sf" x="3063" y="2464" font-size="34" text-anchor="middle">ADNI</text>
<text class="sf" x="3668" y="2462" font-size="34" text-anchor="middle">OASIS</text>
<text class="i" x="2909" y="2281" font-size="32" text-anchor="middle">t <tspan style="font-style:normal">= 1</tspan></text>
<text class="i" x="3194" y="2281" font-size="32" text-anchor="middle">t <tspan style="font-style:normal">= 2</tspan></text>
<text class="i" x="3513" y="2281" font-size="32" text-anchor="middle">t <tspan style="font-style:normal">= 1</tspan></text>
<text class="i" x="3809" y="2281" font-size="32" text-anchor="middle">t <tspan style="font-style:normal">= 2</tspan></text>
<rect x="3973" y="2138" width="16" height="429" fill="url(#cbT)"/>
<text class="sf" x="3995" y="2153" font-size="30">2.2</text>
<text class="sf" x="3996" y="2581" font-size="30">0</text>
<path d="M2808,2611 L3942,2611" stroke="#111" stroke-width="3"/>
<polygon points="3940,2602 3958,2611 3940,2620" fill="#111"/>
<path d="M2913,2600 L2913,2622 M3199,2600 L3199,2622 M3518,2600 L3518,2622 M3821,2600 L3821,2622" stroke="#111" stroke-width="2.5"/>
<text class="sf" x="3978" y="2623" font-size="32">Time</text>
<text class="sf" x="2913" y="2655" font-size="29" text-anchor="middle">age: 70.0/label: CN</text>
<text class="sf" x="3211" y="2655" font-size="29" text-anchor="middle">age: 70.5/label: AD</text>
<text class="sf" x="3516" y="2655" font-size="29" text-anchor="middle">age: 70.8/label: EMCI</text>
<text class="sf" x="3821" y="2655" font-size="29" text-anchor="middle">age: 71.8/label: AD</text>
<text class="sf" transform="translate(2758,2200) rotate(-90)" font-size="30" text-anchor="middle">Ground</text>
<text class="sf" transform="translate(2790,2200) rotate(-90)" font-size="30" text-anchor="middle">Truth</text>
<text class="sf" transform="translate(2770,2356) rotate(-90)" font-size="30" text-anchor="middle">Sampled</text>
<text class="sf" transform="translate(2758,2523) rotate(-90)" font-size="30" text-anchor="middle">Sampled</text>
<text class="sf" transform="translate(2790,2523) rotate(-90)" font-size="30" text-anchor="middle">(domain shift)</text>
<text x="2727" y="2694" class="cap" textLength="1294" lengthAdjust="spacingAndGlyphs"><tspan class="bl">Figure:</tspan> Generated results of Tau SUVR with switched domains. The top is the ground truth of two samples,</text>
<text x="2727" y="2726" class="cap" textLength="1285" lengthAdjust="spacingAndGlyphs">each from the OASIS and ADNI. The second panel shows the results generated with the same conditions,</text>
<text x="2727" y="2759" class="cap" textLength="1185" lengthAdjust="spacingAndGlyphs">and the bottom shows results with reversed domain conditions while age and label are consistent.</text>

<!-- ================= FOOTER ================= -->
<rect y="2794" width="4076" height="86" fill="#fcf0f4"/>
<rect y="2791" width="4076" height="4" fill="#111"/>
<rect y="2876" width="4076" height="4" fill="#111"/>
<text x="2862" y="2846" font-size="38" textLength="1179" lengthAdjust="spacingAndGlyphs" style="fill:#c7144f">International Conference on Learning Representations (ICLR) 2025</text>
</svg>
</body></html>
